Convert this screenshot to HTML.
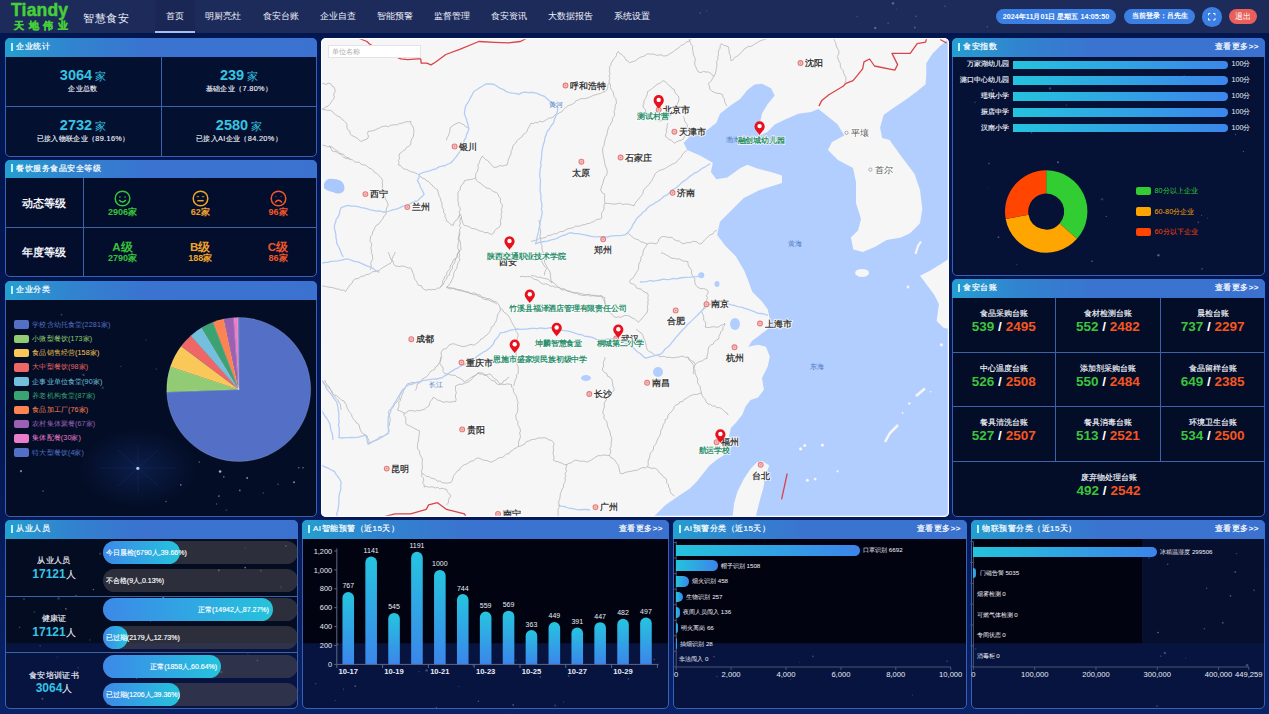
<!DOCTYPE html>
<html><head><meta charset="utf-8">
<style>
*{margin:0;padding:0;box-sizing:border-box}
html,body{width:1269px;height:714px;overflow:hidden}
body{position:relative;background:linear-gradient(180deg,#02164f 0%,#041752 60%,#0a2266 100%);font-family:"Liberation Sans",sans-serif;color:#fff}
.a{position:absolute}
#hdr{left:0;top:0;width:1269px;height:33px;background:#1d2b5b}
.pn{position:absolute;border:1px solid #3a60b4;border-radius:5px;background:#020a2b}
.tt{position:absolute;left:-1px;right:-1px;top:-1px;height:18.5px;border-radius:5px 5px 0 0;
 background:linear-gradient(90deg,#259ed0 0%,#3183cf 22%,#3a74d0 45%,#3b72cf 100%);-webkit-text-stroke:0.2px #fff;font-size:8px;letter-spacing:0.5px;line-height:18.5px;padding-left:11px;color:#fff;white-space:nowrap}
.tt:before{content:"";position:absolute;left:6px;top:4.5px;width:2px;height:8px;background:#b8f4ff}
.tt .more{position:absolute;right:6px;top:0}
#nav span{position:absolute;top:10.5px;width:60px;text-align:center;font-size:8.6px;color:#f0f3fb;white-space:nowrap}
.st{text-align:center;white-space:nowrap;line-height:15px}
.st b{font-size:14.5px;color:#36c4e2;font-weight:bold}
.st i{font-style:normal;font-size:10.5px;color:#36c4e2;margin-left:3px}
.st p{font-size:7.3px;letter-spacing:0.35px;line-height:9px;color:#f0f2fa;-webkit-text-stroke:0.12px #f0f2fa;margin-top:-0.5px}
.lv{text-align:center;font-size:11px;font-weight:bold;color:#f2f2f8;line-height:14px;white-space:nowrap}
.cnt{width:60px;text-align:center;font-size:9px;font-weight:bold;line-height:10px;white-space:nowrap}
.cnt i{font-style:normal;font-weight:bold;font-size:9px}
.lg{width:60px;text-align:center;font-size:11.5px;font-weight:bold;line-height:13px;white-space:nowrap}
.lgt{font-size:7.2px;line-height:10px;white-space:nowrap;letter-spacing:0.1px}
.ppl{text-align:center;white-space:nowrap}
.ppl p{font-size:8px;letter-spacing:0.3px;line-height:11px;color:#eef0f8;-webkit-text-stroke:0.15px #eef0f8}
.ppl .n{font-size:12px;line-height:11px;margin-top:2.8px}
.ppl b{color:#36c4e2}
.ppl i{font-style:normal;font-size:9.5px;color:#fff}
.trk{height:23px;border-radius:11.5px;background:rgba(78,74,82,0.55)}
.fil{position:relative;height:23px;border-radius:11.5px;background:linear-gradient(90deg,#3c89e8,#25c3dc);text-align:right;padding-right:4px;white-space:nowrap}
.fil span{position:absolute;font-size:7px;line-height:23px;color:#fff;left:2.5px;-webkit-text-stroke:0.15px #fff}
svg text{font-family:"Liberation Sans",sans-serif;fill:#fff}
.vl{font-size:7px;text-anchor:middle;fill:#e8ecf4}
.yl{font-size:7.4px;text-anchor:end;fill:#e8ecf4}
.xl{font-size:7.6px;text-anchor:middle;font-weight:bold;fill:#e8ecf4}
.ct{font-size:9px;font-weight:bold;fill:#3d3d3d;paint-order:stroke;stroke:#fff;stroke-width:1.6px;stroke-linejoin:round}
.sl{font-size:7.4px;fill:#4a78c4;text-anchor:middle}
.mk{font-size:8px;letter-spacing:-0.2px;font-weight:bold;fill:#2d8f6c;text-anchor:middle;paint-order:stroke;stroke:#fff;stroke-width:1.4px;stroke-linejoin:round}
.sbl{font-size:7.3px;line-height:10px;color:#f0f2f8;-webkit-text-stroke:0.15px #f0f2f8;text-align:right;white-space:nowrap}
.sbar{height:8.3px;border-radius:0 4.2px 4.2px 0;background:linear-gradient(90deg,#24c3de,#3b86ea)}
.sbv{font-size:7.2px;line-height:10px;color:#f0f0f6;white-space:nowrap}
.tz{text-align:center;white-space:nowrap}
.tz p{font-size:8.3px;line-height:11px;color:#f4f6fc;-webkit-text-stroke:0.15px #f4f6fc}
.tz b{display:block;font-size:13.5px;line-height:15px;color:#fff}
.tz em{font-style:normal;color:#3dc43d}
.tz u{text-decoration:none;color:#f5561f}
.hb{height:10.7px;border-radius:0 5.35px 5.35px 0;background:linear-gradient(90deg,#24c4dc,#3c84ea)}
.hbl{font-size:6.2px;line-height:10px;color:#f2f2f6;white-space:nowrap}
.xa{font-size:7.6px;text-anchor:middle;fill:#e8ecf4}
.c{text-align:center;white-space:nowrap}
</style></head>
<body>
<div id="hdr" class="a">
 <div class="a" style="left:11px;top:-0.5px;font-size:17.5px;font-weight:bold;color:#45cf38;letter-spacing:0.2px;-webkit-text-stroke:0.5px #45cf38">Tiandy</div>
 <div class="a" style="left:14px;top:20px;font-size:9.8px;color:#45cf38;letter-spacing:4.7px;font-weight:bold;-webkit-text-stroke:0.4px #45cf38">天地伟业</div>
 <div class="a" style="left:83px;top:10.5px;font-size:11px;color:#eef0fa;letter-spacing:0.6px">智慧食安</div>
 <div class="a" style="left:155px;top:0;width:40px;height:33px;background:#1a2754"></div>
 <div class="a" style="left:155px;top:31px;width:40px;height:2px;background:#a9bdf0"></div>
 <div id="nav"><span style="left:144.7px">首页</span><span style="left:193.2px">明厨亮灶</span><span style="left:250.8px">食安台账</span><span style="left:307.9px">企业自查</span><span style="left:364.6px">智能预警</span><span style="left:421.8px">监督管理</span><span style="left:479.3px">食安资讯</span><span style="left:540.5px">大数据报告</span><span style="left:601.7px">系统设置</span></div>
 <div class="a pill" style="left:996px;top:9px;width:120px;height:15px;background:#3b7fe3;border-radius:8px;font-size:7.2px;font-weight:bold;line-height:15px;text-align:center">2024年11月01日 星期五 14:05:50</div>
 <div class="a pill" style="left:1124px;top:9px;width:71px;height:15px;background:#3b7fe3;border-radius:8px;font-size:7.1px;font-weight:bold;line-height:15px;text-align:center">当前登录：吕先生</div>
 <div class="a" style="left:1202px;top:7px;width:19.5px;height:19.5px;background:#3b7fe3;border-radius:50%">
  <svg class="a" style="left:6px;top:6px" width="7.5" height="7.5" viewBox="0 0 7.5 7.5" fill="none" stroke="#fff" stroke-width="1"><path d="M0.5 2.3V0.5H2.3M5.2 0.5H7V2.3M7 5.2V7H5.2M2.3 7H0.5V5.2"/></svg>
 </div>
 <div class="a" style="left:1228.5px;top:9px;width:28.5px;height:15px;background:#e9605a;border-radius:8px;font-size:7.9px;line-height:15px;text-align:center">退出</div>
</div>

<!-- left col -->
<div class="pn" style="left:5px;top:38px;width:312px;height:119px;background:#04102f"><div class="tt">企业统计</div></div>
<div class="pn" style="left:5px;top:159.5px;width:312px;height:117.5px;background:#030e2c"><div class="tt">餐饮服务食品安全等级</div></div>
<div class="pn" style="left:5px;top:281px;width:312px;height:236px;background:#030d25"><div class="tt">企业分类</div></div>


<!-- map -->

<!-- MAP -->
<svg class="a" style="left:0;top:0" width="1269" height="714"><defs><clipPath id="mc"><rect x="321" y="38" width="628" height="479" rx="5"/></clipPath></defs><g clip-path="url(#mc)"><rect x="321" y="38" width="628" height="479" fill="#f6f6f6"/><polygon points="754.6,84.6 747.4,90.0 740.1,99.1 729.2,106.4 720.0,113.7 716.4,122.8 707.3,130.1 690.9,135.5 683.6,142.8 687.3,150.1 700.0,155.6 712.8,162.8 710.9,171.9 716.4,179.2 727.3,177.4 740.1,168.3 747.4,164.7 756.5,168.3 771.0,172.0 782.0,175.6 782.0,182.9 771.0,186.5 759.8,190.0 743.8,197.9 733.2,208.5 719.9,221.8 717.2,235.1 725.2,245.8 735.9,256.4 743.8,269.7 748.0,280.0 752.2,291.8 762.0,301.6 767.8,309.4 769.8,319.2 767.8,329.0 760.0,334.9 752.2,340.8 748.2,346.7 758.0,344.7 765.9,346.7 769.8,356.5 767.8,366.3 762.0,378.0 763.9,389.8 758.0,397.6 750.5,400.0 745.6,406.6 742.3,414.8 735.7,423.0 730.8,427.9 729.2,436.1 727.5,445.9 725.9,454.1 717.7,459.0 709.5,465.6 703.0,473.8 696.4,482.0 689.8,488.5 680.0,495.1 665.5,504.9 656.5,513.9 652.0,518.0 950.0,518.0 950.0,38.0 947.0,38.0 946.6,40.8 939.6,46.4 932.6,53.4 926.3,63.2 926.3,73.0 925.6,84.2 917.2,91.2 906.0,99.6 893.4,108.0 883.6,115.0 880.1,127.6 882.2,138.0 889.6,140.0 901.0,156.0 914.6,174.0 920.0,190.0 922.3,209.0 920.0,223.3 910.4,232.9 900.9,237.6 886.6,240.0 874.7,247.1 862.8,251.9 853.3,249.5 850.9,237.6 858.0,230.5 861.0,219.0 856.0,203.0 856.0,182.0 853.0,168.0 838.0,160.0 828.0,150.0 832.0,142.0 844.3,135.5 837.5,124.2 826.0,115.0 818.4,109.1 811.1,111.9 798.3,113.7 785.6,119.2 774.7,124.6 767.4,131.9 760.1,135.5 756.5,131.9 760.1,122.8 761.9,113.7 767.4,104.6 774.7,95.5 771.0,88.2 761.9,83.7" fill="#b2cefe"/><polygon points="762.0,460.7 769.3,465.6 765.2,475.4 763.6,486.9 760.3,498.4 757.0,511.5 755.4,518.0 732.5,518.0 734.1,503.3 737.4,491.8 743.9,478.7 750.5,468.9 757.0,462.3" fill="#f6f6f6"/><polygon points="950.0,258.0 941.4,263.8 929.5,271.0 920.0,275.7 924.0,281.0 927.1,285.2 934.2,294.8 939.0,304.3 936.6,321.0 943.8,328.1 950.0,329.0" fill="#f6f6f6"/><ellipse cx="862.1" cy="272.9" rx="7" ry="4" fill="#f6f6f6"/><path d="M915.5 254L918 246L921 241.5" stroke="#f6f6f6" stroke-width="2.2" fill="none"/><path d="M885 442L890 433L898 425" stroke="#f6f6f6" stroke-width="2.5" fill="none"/><path d="M916 396L925 388.5" stroke="#f6f6f6" stroke-width="2.5" fill="none"/><circle cx="800.6" cy="448.9" r="1.6" fill="#f6f6f6"/><circle cx="804.7" cy="445.5" r="1.6" fill="#f6f6f6"/><circle cx="822.4" cy="445.1" r="1.6" fill="#f6f6f6"/><circle cx="807.4" cy="480.3" r="1.5" fill="#f6f6f6"/><circle cx="815.2" cy="479.1" r="1.3" fill="#f6f6f6"/><circle cx="837.6" cy="471.3" r="1.1" fill="#f6f6f6"/><circle cx="909.3" cy="403.5" r="1.2" fill="#f6f6f6"/><circle cx="902.6" cy="413" r="0.9" fill="#f6f6f6"/><circle cx="930.6" cy="391.7" r="0.8" fill="#f6f6f6"/><circle cx="941.4" cy="344.8" r="1.6" fill="#f6f6f6"/><circle cx="908" cy="287" r="1.4" fill="#f6f6f6"/><path d="M324 184Q326 178 333 179Q340 179 343 183Q346 188 343 192Q338 195 333 192Q327 191 324 188Z" fill="#aac8fc"/><ellipse cx="658" cy="372" rx="5" ry="5" fill="#b2cefe"/><ellipse cx="586" cy="378" rx="5" ry="3" fill="#b2cefe"/><ellipse cx="735" cy="324" rx="5" ry="6" fill="#b2cefe"/><ellipse cx="701.3" cy="275.2" rx="3" ry="3" fill="#b2cefe"/><ellipse cx="717" cy="284.1" rx="2.5" ry="3" fill="#b2cefe"/><ellipse cx="681" cy="320" rx="3" ry="2" fill="#b2cefe"/><polyline points="324.8,380.0 325.4,382.2 326.6,384.0 328.2,385.7 329.5,387.5 330.3,389.6 331.5,391.4 332.5,393.4 334.2,395.0 336.5,395.7 338.3,397.2 340.1,398.6 341.7,400.3 344.0,401.0 345.2,403.3 346.6,405.5 347.1,408.1 348.5,410.4 349.8,412.6 351.5,414.3 352.0,416.8 353.3,418.8 354.9,420.5 356.1,422.5 358.3,423.9 359.4,426.0 360.0,429.0 361.3,431.8 362.8,433.6 364.9,434.6 367.0,435.7 367.7,438.2 369.0,440.6 369.0,443.3 370.9,442.1 372.9,441.2 375.1,440.4 377.1,439.4 378.6,437.6 381.0,436.6 383.6,436.2 385.7,434.3 388.2,433.7 389.0,431.6 388.8,429.3 388.2,427.0 389.6,425.0 389.4,422.8 390.3,420.6 390.1,418.4 389.4,415.4 388.2,412.6 389.2,410.2 391.4,408.8 393.5,407.2 394.3,404.7 396.0,402.8 397.8,401.1 399.3,398.9 399.2,396.1 400.8,393.9 401.6,391.5 402.7,389.3 405.1,388.1 406.3,386.0 407.4,383.8 409.6,383.4 411.8,382.5 414.1,382.6 416.3,382.5 418.7,382.9 420.8,381.9" fill="none" stroke="#b0b0b0" stroke-width="0.75" stroke-linejoin="round"/><polyline points="458.9,232.6 459.8,234.9 458.9,237.5 459.4,239.9 460.5,242.2 460.4,244.6 460.8,247.0 461.0,249.4 459.4,251.4 457.8,253.3 457.3,256.1 456.0,258.2 453.6,259.6 452.6,262.0 451.6,264.1 450.1,266.0 450.2,268.7 448.5,270.4 447.0,272.3 446.7,274.8 444.6,276.4 444.2,278.8 442.6,280.6 442.8,283.2 441.7,285.3 440.0,287.0" fill="none" stroke="#b0b0b0" stroke-width="0.75" stroke-linejoin="round"/><polyline points="446.3,287.2 448.5,288.4 450.9,288.9 453.5,288.1 455.9,288.7 458.0,290.3 460.4,290.7 462.8,291.1 465.2,291.4 467.4,291.9 469.3,293.1 471.4,293.9 473.6,294.6 475.9,294.7 477.8,295.9 480.0,296.6 481.9,297.8 483.8,299.0 486.0,299.7 488.3,299.8 490.4,300.9 492.5,301.8 494.8,302.6 496.7,304.0" fill="none" stroke="#b0b0b0" stroke-width="0.75" stroke-linejoin="round"/><polyline points="519.8,276.7 522.4,276.3 525.0,276.8 527.7,276.5 530.3,276.7 532.3,278.1 534.4,279.4 537.0,279.9 539.1,281.1 540.8,283.0 543.1,284.1 545.7,283.8 548.1,284.4 550.2,286.2 552.8,286.0 555.1,287.1 557.6,287.2 559.7,287.9 561.7,288.8 564.1,288.8 566.0,290.2 568.0,291.3 570.2,291.4 572.2,292.5 574.4,293.1 576.8,292.8 578.6,294.6 580.7,295.0 582.9,295.6 585.3,295.3 587.6,294.8 590.0,296.2 592.3,295.6 594.7,296.0 597.1,296.2 599.4,295.9 601.8,295.6 602.2,298.0 604.0,299.7 604.5,302.1 606.0,304.0 606.3,306.4 608.0,308.2" fill="none" stroke="#b0b0b0" stroke-width="0.75" stroke-linejoin="round"/><polyline points="538.7,220.0 539.4,222.3 539.9,224.7 539.7,227.1 540.3,229.4 540.7,231.7 540.4,234.2 539.9,236.6 540.8,238.9 540.6,241.3 540.9,243.7 542.1,245.9 541.8,248.4 542.5,250.7 543.0,253.0 543.4,255.4 543.0,257.8 544.4,259.7 544.5,262.3 545.6,264.3 546.7,266.4 547.7,268.5 549.2,270.4 550.2,272.8 550.6,275.4 550.7,278.0 551.1,280.6 552.0,283.0" fill="none" stroke="#b0b0b0" stroke-width="0.75" stroke-linejoin="round"/><polyline points="688.5,38.0 689.4,40.2 690.3,42.4 691.3,44.6 692.8,46.5 692.4,49.1 693.1,51.5 693.2,54.0 694.2,56.4 695.3,58.8 695.0,61.4 694.5,64.0 695.6,66.4 696.8,69.3 698.4,72.0 700.9,72.6 703.4,71.4 705.9,72.0 708.4,72.0 710.5,73.1 712.1,74.9 714.0,76.3 712.5,78.0 711.8,80.3 710.2,81.9 708.4,83.4 709.4,86.2 709.8,89.1 711.8,91.1 714.3,92.3 716.9,93.3 719.9,93.5 722.6,94.7 722.8,97.0 724.5,98.8 724.5,101.1 725.4,103.2 726.8,106.0" fill="none" stroke="#b0b0b0" stroke-width="0.75" stroke-linejoin="round"/><polyline points="714.0,76.3 715.2,74.0 715.9,71.5 716.2,68.9 716.9,66.4 716.8,64.0 716.6,61.6 717.9,59.3 717.8,56.9 718.5,54.6 718.3,52.2 718.8,50.0 720.1,48.1 720.1,45.7 721.1,43.7 723.3,45.1 725.7,45.9 728.2,46.5 728.8,48.8 729.1,51.2 729.4,53.7 730.6,55.9 730.5,58.4 731.1,60.7 733.3,59.7 734.6,57.5 736.7,56.4 738.8,55.0 740.5,53.1 742.4,51.5 743.8,49.3 746.0,47.9 748.1,46.5 750.9,46.4 753.1,45.3 755.2,43.7 757.6,42.5 759.9,41.0 762.4,40.0 765.1,39.4 768.0,38.0" fill="none" stroke="#b0b0b0" stroke-width="0.75" stroke-linejoin="round"/><polyline points="833.2,38.0 834.4,40.3 835.6,42.5 836.0,45.1 837.2,48.1 838.9,50.8 838.8,53.8 837.4,56.4 838.1,58.9 839.1,61.3 840.3,63.7 840.3,66.4 841.3,68.5 843.1,70.3 843.5,72.7 844.5,74.9 845.9,77.6 846.0,80.6 844.5,83.4" fill="none" stroke="#b0b0b0" stroke-width="0.75" stroke-linejoin="round"/><polyline points="321.0,83.8 323.4,83.4 325.9,84.5 328.4,83.2 330.8,83.8 331.9,85.9 334.1,87.1 335.0,89.4 335.1,91.9 333.5,94.2 334.4,96.8 333.6,99.2 332.0,100.8 330.9,102.7 329.5,104.5 328.0,106.2 325.7,107.1 323.5,108.5 321.0,109.0" fill="none" stroke="#b0b0b0" stroke-width="0.75" stroke-linejoin="round"/><polyline points="329.4,145.4 330.9,148.2 332.2,151.0 334.4,151.5 336.6,151.9 338.3,153.7 340.6,153.8 343.1,154.1 344.8,155.9 346.6,157.5 349.0,158.0 350.4,160.0" fill="none" stroke="#b0b0b0" stroke-width="0.75" stroke-linejoin="round"/><polyline points="321.0,109.0 323.2,109.6 325.5,109.8 327.7,110.4 330.1,110.3 332.2,111.2 333.8,113.2 335.7,114.8 337.8,116.2 340.3,117.2 341.8,119.2 343.9,120.6 345.7,122.4 347.0,124.5 346.8,127.1 347.6,129.4 349.9,131.1 350.1,133.6 351.6,135.4 353.7,136.4 355.8,137.4 357.8,138.6 359.3,140.4 361.3,141.5 363.5,140.3 366.0,139.5 368.1,138.1 368.4,135.9 367.5,133.6 368.1,131.4 370.5,131.1 372.8,130.8 375.0,130.1 377.1,128.9 379.3,128.0 381.4,126.8 383.6,126.3 385.9,126.0 388.4,126.8 390.4,125.3 392.7,125.0 395.0,124.7 397.4,124.8 399.4,123.4 401.7,123.3 403.9,122.7 406.0,121.6 408.4,121.9 410.6,121.3 410.9,124.0 412.8,126.2 413.6,128.7 414.0,131.4 413.6,133.7 413.6,136.0 412.3,138.1 411.2,140.2 410.9,142.5 410.6,144.8 408.7,146.3 406.5,147.4 405.4,149.7 403.1,150.7 401.4,152.5 399.4,153.8 399.0,156.0 399.6,158.3 398.3,160.5 399.2,162.8 398.3,165.0 400.6,165.6 402.2,167.7 404.1,169.0 406.6,169.4 408.6,170.5 410.6,171.7 413.0,172.1 415.2,172.9 417.4,174.0" fill="none" stroke="#b0b0b0" stroke-width="0.75" stroke-linejoin="round"/><polyline points="321.0,144.8 323.3,145.2 325.5,145.8 327.6,146.8 330.0,146.6 332.2,147.1 334.1,148.7 336.0,150.4 338.3,151.5 339.9,153.5 341.7,155.3 343.5,157.1 345.7,158.3 348.1,158.4 350.3,159.5 352.6,159.9 354.5,161.7 356.8,162.3 359.3,162.1 361.1,164.2 363.3,165.0 365.8,165.0 367.4,166.7 369.2,168.1 371.4,169.0 373.3,170.4 374.5,172.5 376.7,173.4 378.3,175.0 380.0,176.6 381.5,178.4 382.6,180.5 382.2,182.9 382.6,185.1 382.3,187.5 383.1,189.6 383.2,191.9 383.8,194.1 384.7,196.3 385.3,198.7 386.5,200.8 387.7,202.9 388.2,205.3 386.9,207.4 386.3,209.6 386.0,211.9 386.0,214.3 384.1,216.0 383.0,218.3 381.5,220.3 379.9,222.2 378.5,224.3 376.1,225.5 374.8,227.7 374.0,230.0 372.5,232.0 372.3,234.5 370.5,236.5 370.3,239.0 370.0,241.3 371.6,243.4 371.6,245.7 370.7,248.0 371.7,250.2 371.2,252.5 372.4,254.6 372.5,256.9 372.8,259.2 371.5,261.2 370.8,263.4 371.2,265.7 371.1,267.9 370.0,270.0" fill="none" stroke="#b0b0b0" stroke-width="0.75" stroke-linejoin="round"/><polyline points="417.4,174.0 419.2,175.3 420.8,176.9 422.6,178.2 424.9,178.9 426.3,180.7 428.7,181.6 430.2,183.5 432.1,184.9 433.5,187.0 435.4,188.4 437.5,189.6 438.0,191.9 438.7,194.1 439.2,196.4 440.6,198.4 440.8,200.8 441.9,202.9 442.0,205.3 442.0,207.7 444.0,209.6 443.4,212.2 445.2,214.1 444.9,216.6 446.1,218.7 446.5,221.0 448.8,222.4 450.7,224.5 453.2,225.5 453.9,222.9 455.3,220.7 457.8,219.1 458.7,216.5 460.0,214.3 459.1,212.1 460.3,209.7 459.9,207.5 458.4,205.4 458.6,203.1 457.9,200.9 457.9,198.6 458.1,196.3 457.7,194.1 458.3,191.6 460.2,189.8 460.4,187.1 461.7,184.9 463.7,183.2 464.4,180.7 466.6,180.1 468.9,179.7 471.2,179.5 473.4,178.8 475.6,178.4 475.8,176.1 475.6,173.8 477.1,171.8 477.9,169.6 478.3,167.4 477.9,165.0 479.3,162.9 479.9,160.4 481.1,158.2 482.4,156.0 483.8,157.8 485.4,159.4 487.6,160.4 489.1,162.1 490.6,163.8 492.0,165.6 493.6,167.2 495.9,167.3 498.1,166.5 500.2,165.4 502.6,166.2 504.7,165.3 507.0,165.0 507.8,162.8 508.1,160.4 509.1,158.2 509.8,156.0 511.1,153.9 510.9,151.3 512.3,149.3 512.5,146.9 513.7,144.8 515.6,143.3 516.6,140.9 518.5,139.5 520.3,137.9 522.3,136.6 523.3,134.2 525.5,133.0 527.2,131.4 527.7,129.2 528.8,127.2 530.0,125.2 531.0,123.2 533.4,123.5 535.5,122.4 537.8,122.8 539.8,121.1 542.3,122.0 544.4,120.9 546.6,119.6 548.7,118.2 551.3,117.9 553.7,117.0 555.3,114.6 557.9,114.2 559.5,112.6 561.7,111.9 563.1,110.0 564.8,108.5 566.4,106.9 568.2,105.6 570.5,105.0 572.7,104.1 574.5,102.8 575.8,100.8 578.0,100.2 580.1,98.8 582.5,98.6 584.9,98.7 587.2,98.1 589.3,97.2 591.5,96.3 593.6,95.1 596.0,94.8 598.2,94.0 600.6,93.5 602.6,92.2 605.0,91.8 606.7,89.9 607.8,87.6 607.8,84.8 609.4,82.8 609.1,80.6 610.0,78.3 609.0,76.1 610.1,73.8 609.4,71.6 609.7,69.3 609.4,67.1 610.8,65.3 611.3,62.9 612.5,61.0 613.6,59.1 615.3,57.4 616.4,55.5 616.8,53.1 618.4,51.4 619.6,53.4 621.7,54.5 623.5,56.0 624.9,57.8 625.9,60.0 627.9,61.2 629.6,62.7 631.7,61.9 633.9,61.3 635.9,60.4 637.7,59.1 639.5,57.6 641.6,56.8 643.8,56.3 645.7,55.1 647.5,53.7 649.7,54.1 652.0,54.0 654.3,54.3 656.5,55.2 658.7,55.2 661.1,54.6 663.2,56.0 665.5,55.9 667.8,55.2 669.7,53.8 671.8,52.7 673.8,51.5 675.5,49.7 677.7,48.8 679.3,47.0 681.1,45.4 683.4,44.7 685.1,43.2 686.8,41.8 689.2,41.2 690.8,39.6 692.4,38.0" fill="none" stroke="#b0b0b0" stroke-width="0.75" stroke-linejoin="round"/><polyline points="446.5,140.3 446.9,137.9 448.3,135.9 449.0,133.7 450.0,131.5 449.8,129.0 451.0,126.9 453.1,125.4 455.2,124.1 457.6,123.1 460.0,122.4 461.6,124.0 463.9,124.6 465.3,126.5 467.4,127.4 468.9,129.1" fill="none" stroke="#b0b0b0" stroke-width="0.75" stroke-linejoin="round"/><polyline points="460.0,214.3 461.5,216.3 461.5,218.9 462.4,221.1 462.9,223.5 464.4,225.5 466.8,225.9 469.0,226.6 471.0,228.1 473.3,228.7 475.7,229.0 477.9,230.0 480.0,231.0 482.4,231.3 484.5,232.7 487.0,232.4 489.2,233.3 491.3,234.5 493.6,233.2 494.7,230.7 496.4,228.8 498.8,227.6 500.3,225.5 500.8,223.3 500.2,221.0 501.1,218.8 501.5,216.6 501.0,214.2 502.0,212.1 501.4,209.7 502.0,207.5 502.5,205.3 501.0,203.3 500.3,201.0 500.5,198.3 498.8,196.4 498.0,194.1 496.4,192.3 494.1,192.0 492.2,190.6 490.5,189.1 488.4,188.3 486.0,188.0 484.4,186.2 482.4,185.2 480.9,183.3 478.6,182.2 476.8,180.6 475.6,178.4" fill="none" stroke="#b0b0b0" stroke-width="0.75" stroke-linejoin="round"/><polyline points="460.0,214.3 459.3,216.5 460.8,218.8 459.6,221.0 460.5,223.2 459.2,225.5 460.8,227.7 459.4,230.0 460.0,232.2 459.3,234.4 458.7,236.6 458.1,238.8 458.9,241.3 458.3,243.5 457.7,245.7 457.8,248.1 458.8,250.4 459.2,252.8 459.7,255.2 459.1,257.7 460.0,260.0 458.3,262.3 457.3,264.8 457.0,267.7 455.5,270.0 454.0,272.2 453.7,274.8 453.2,277.4 452.0,279.6 451.0,282.0 449.6,283.8 448.5,285.8 446.5,287.0 448.7,287.6 451.0,287.7 453.2,288.5 455.3,289.6 457.7,289.6 460.0,289.7 462.2,290.3 464.3,291.5 466.5,292.3 468.9,292.2 471.0,293.6 473.6,292.8 475.8,293.6 477.9,294.8 480.3,295.1 482.1,297.1 484.5,297.6 486.7,298.5 489.2,298.7 491.3,299.8 493.3,301.2 495.8,301.5 497.8,303.4 499.3,305.7 500.3,308.3 500.2,310.8 498.8,312.8 497.5,314.8 497.2,317.2 496.7,319.5 495.8,321.7 494.5,323.6 493.7,325.8 491.3,327.1 490.9,329.5 489.7,331.6 488.3,333.4 486.8,335.2 484.6,336.3 483.2,338.4 480.8,339.1 479.5,341.3 477.5,342.7 475.6,344.1 473.5,345.2 471.0,344.4 468.8,345.0 466.6,346.0 464.4,346.4 462.1,346.6 459.9,345.6 457.7,345.4 455.6,344.3 453.3,343.8 451.0,344.1 449.0,345.2 447.6,347.1 446.0,348.8 443.4,349.0 442.0,350.9 440.9,353.0 441.7,355.5 440.7,357.6 440.3,359.9 439.8,362.1 440.0,364.6 442.3,366.3 443.2,368.6 442.9,371.3 444.3,373.3 446.5,373.8 448.8,374.1 450.9,375.1 453.2,375.2 455.5,375.5 457.1,377.1 459.3,377.9 461.2,379.0 463.1,380.2 464.4,382.2 466.2,380.7 468.4,379.9 470.1,378.2 472.0,376.9 474.1,376.0 476.2,374.8 477.9,373.3 480.1,374.0 482.4,374.1 484.5,375.4 486.8,375.5 488.4,377.4 490.1,379.0 492.0,380.5 494.8,380.9 496.0,383.2 498.0,384.5 500.2,384.3 502.5,384.3 504.8,384.5 507.0,383.9 509.2,384.1 511.5,384.5 511.6,387.0 513.4,388.9 513.4,391.4 514.6,393.6 516.0,395.6 516.8,397.8 517.2,400.2 518.2,402.4 517.5,404.9 517.7,407.5 517.8,410.1 517.3,412.5 515.8,414.9 516.0,417.5 516.4,419.9 518.1,421.8 517.7,424.4 518.9,426.5 520.0,428.7 520.5,431.0 519.5,433.1 520.4,435.5 520.2,437.8 519.4,440.0 518.5,442.1 518.5,444.4 518.2,446.6 516.3,447.9 514.0,448.6 512.6,450.6 510.3,451.4 509.1,453.7 506.5,453.9 504.8,455.6 502.8,457.2 500.2,457.6 497.8,458.5 495.7,459.8 493.5,461.1 491.3,462.3 489.1,461.5 487.0,460.5 484.5,460.3 482.2,459.8 480.2,458.5 477.9,457.9 475.6,459.0 473.7,460.7 471.1,461.2 468.9,462.4 466.9,464.0 464.4,464.6 462.4,466.1 460.5,467.8 459.2,470.1 456.9,471.3 455.5,473.5 453.7,475.4 453.0,477.9 452.3,480.3 451.0,482.5 448.8,482.9 446.5,483.1 444.2,482.9 442.0,482.5 440.1,480.9 437.3,481.4 435.5,479.2 433.2,478.6 430.8,478.0 428.8,476.5 426.1,476.3 424.2,474.4 421.9,473.5 421.4,471.3 422.2,469.0 422.4,466.8 422.3,464.6 422.0,462.4 422.5,460.1 421.9,457.9 420.6,455.8 419.6,453.6 419.7,450.9 417.6,449.1 417.4,446.6 417.6,444.4 417.9,442.1 418.9,440.0 418.5,437.7 419.1,435.5 419.3,433.2 419.6,431.0 417.4,429.9 415.1,428.8 412.9,427.6 410.7,426.3 408.4,425.4 406.2,424.2 405.6,422.0 405.9,419.6 405.6,417.3 404.0,415.3 403.9,413.0 406.4,412.9 408.1,410.8 410.6,410.8 412.9,410.5 415.1,411.4 417.4,410.3 419.6,410.8 422.0,409.9 424.5,409.3 426.4,407.6 428.6,406.3 429.7,404.0 430.2,401.5 431.9,399.5 433.1,397.3 435.4,398.4 437.3,400.0 439.9,400.5 442.0,401.8 444.2,402.3 446.5,401.6 448.8,402.0 451.0,402.2 453.2,401.3 455.5,401.8 456.2,399.6 455.4,397.3 455.5,395.1 456.3,392.8 455.6,390.6 455.5,388.3 455.5,386.1 457.6,384.9 459.8,384.2 462.3,384.3 464.4,383.2 466.7,382.7 468.9,381.7 470.9,380.1 472.7,378.3 474.1,376.1 476.5,374.9 477.9,372.7 480.1,373.0 482.5,372.9 484.5,374.4 486.7,374.8 489.2,373.9 491.3,374.9 492.7,377.1 494.7,378.7 497.0,380.0 498.4,382.2 500.3,383.9 502.5,383.1 503.6,380.8 505.9,380.1 507.3,378.2 509.3,377.2" fill="none" stroke="#b0b0b0" stroke-width="0.75" stroke-linejoin="round"/><polyline points="321.0,285.9 323.3,286.0 325.5,286.6 327.7,286.9 329.9,287.3 332.2,287.6 334.4,288.1 336.6,289.0 339.0,289.1 341.1,290.3 343.7,290.1 345.7,291.5 346.9,289.2 348.5,287.2 349.7,285.0 351.9,283.5 352.9,281.0 354.6,279.1 357.0,278.7 359.3,278.0 361.2,276.1 363.8,276.2 365.8,274.7 368.2,274.4 370.4,273.5 372.3,271.7 374.8,271.6 377.1,271.1 379.3,270.2 381.4,268.6 383.6,267.1 385.9,265.9 388.1,264.4 390.5,263.4 391.8,261.3 392.1,258.8 393.1,256.6 394.3,254.5 395.0,252.2" fill="none" stroke="#b0b0b0" stroke-width="0.75" stroke-linejoin="round"/><polyline points="388.2,252.2 389.3,254.5 390.0,256.9 390.9,259.3 393.0,261.0 393.5,263.6 395.0,265.7 397.2,266.3 399.4,266.6 401.8,266.0 404.0,266.2 406.2,267.1 408.3,268.0 410.6,267.9 411.9,270.0 412.5,272.4 413.8,274.5 414.0,277.1 414.8,279.4 416.6,281.3 417.4,283.6 418.7,285.6 421.4,285.7 422.4,288.0 424.2,289.4 426.3,290.3 428.5,289.4 430.9,289.9 433.1,289.3 435.4,289.6 437.5,288.0 439.8,288.1 441.2,286.3 443.0,284.9 444.0,282.8 444.9,280.7 446.5,279.1 447.0,276.6 449.4,275.0 449.8,272.4 451.0,270.2 452.6,268.3 452.3,265.5 454.2,263.7 455.1,261.4 455.5,259.0 457.2,257.1 457.1,254.2 458.7,252.2 460.0,250.0" fill="none" stroke="#b0b0b0" stroke-width="0.75" stroke-linejoin="round"/><polyline points="500.3,308.3 502.5,309.7 503.7,312.0 505.9,313.5 507.8,315.1 509.3,317.2 510.3,319.2 511.3,321.2 512.3,323.2 513.3,325.2 514.6,327.0 515.6,329.0 515.9,331.3 517.5,333.1 518.2,335.2 517.6,337.4 517.2,339.6 516.8,341.8 516.4,344.1 517.2,346.4 517.0,348.7 515.9,350.8 516.0,353.1 516.2,355.4 517.0,357.5 516.5,359.8 516.5,362.1 516.8,364.4 518.1,366.5 518.2,368.7 518.2,371.0 518.3,373.4 516.2,375.1 516.7,377.6 515.3,379.5 514.9,381.8 514.2,383.9 513.7,386.1" fill="none" stroke="#b0b0b0" stroke-width="0.75" stroke-linejoin="round"/><polyline points="406.2,386.1 404.8,388.4 403.5,390.7 402.8,393.3 401.7,395.7 400.9,398.1 400.4,400.5 398.7,402.6 399.0,405.3 398.5,407.8 397.2,410.0 399.6,410.7 401.8,411.7 403.9,413.0" fill="none" stroke="#b0b0b0" stroke-width="0.75" stroke-linejoin="round"/><polyline points="415.1,390.6 416.5,388.6 416.9,386.2 417.4,383.9 419.4,382.7 421.2,381.4 422.2,379.1 424.2,378.1 426.2,376.9 427.8,375.4 429.2,373.5 430.4,371.6 432.4,370.4 434.7,369.6 435.4,367.0 437.5,366.0 438.4,363.6 440.4,361.8 440.8,359.2 442.0,357.0" fill="none" stroke="#b0b0b0" stroke-width="0.75" stroke-linejoin="round"/><polyline points="321.0,380.0 323.2,381.4 324.4,383.8 326.2,385.6 328.2,387.2 330.0,389.0 331.7,390.7 332.2,393.1 333.4,395.0 335.1,396.7 336.4,398.6 338.1,400.3 339.0,402.4 340.5,404.7 340.7,407.4 341.2,410.0" fill="none" stroke="#b0b0b0" stroke-width="0.75" stroke-linejoin="round"/><polyline points="421.9,473.5 421.5,475.9 423.2,477.9 423.8,480.1 422.6,482.6 424.2,484.7 424.1,487.0 426.4,486.4 428.6,487.2 430.9,486.8 433.1,487.0 435.2,488.0 437.6,487.3 439.7,488.8 442.1,488.2 444.2,489.0 446.5,489.2 447.4,491.8 449.3,493.9 451.0,496.0 449.3,497.9 448.5,500.3 448.3,503.0 446.5,504.9" fill="none" stroke="#b0b0b0" stroke-width="0.75" stroke-linejoin="round"/><polyline points="518.2,446.6 520.6,446.1 522.8,445.0 524.9,443.8 526.4,441.5 528.9,441.1 531.0,439.9 533.2,439.4 535.5,439.2 537.6,438.2 539.9,437.9 542.2,438.0 544.4,437.7 546.8,438.4 548.9,439.9 551.5,440.4 553.4,442.2 554.1,444.4 553.1,446.7 553.5,448.9 553.4,451.1 553.0,453.4 553.6,455.6 554.1,457.9 553.4,460.1 555.5,461.3 557.9,461.7 560.1,462.6 562.3,463.3 564.4,464.6 566.9,464.6 569.0,463.3 571.5,462.7 573.5,461.0 575.8,460.1 578.0,460.7 580.2,461.2 582.6,461.1 584.9,461.2 587.0,462.3 589.2,460.9 591.7,459.9 593.8,458.4 595.9,456.9 598.2,455.6 600.4,455.8 602.7,455.1 604.9,455.1 607.2,455.3 609.4,455.6 610.7,457.6 613.1,458.6 614.9,460.2 616.2,462.3 617.7,464.3 618.6,466.5 619.2,468.9 619.6,471.3 620.6,473.5 623.0,473.6 625.1,472.4 627.3,472.0 629.6,471.4 631.9,471.3 634.0,470.4 636.5,470.4 638.6,469.4 640.7,468.4 642.9,467.5 645.4,467.9 647.5,466.8 649.7,467.7 651.9,468.4 654.3,468.0 656.5,469.0 658.2,470.9 659.6,473.1 661.8,474.5 663.2,476.7 665.5,478.0 666.8,480.1 666.3,482.7 668.4,484.5 668.6,487.0 670.0,489.0 670.0,491.5 671.8,494.1 674.4,496.0" fill="none" stroke="#b0b0b0" stroke-width="0.75" stroke-linejoin="round"/><polyline points="566.9,464.6 566.3,466.8 565.8,469.0 566.5,471.4 565.0,473.4 565.9,475.8 564.9,478.0 565.5,480.3 564.6,482.5 563.5,484.6 563.6,487.2 562.0,489.1 561.3,491.4 560.4,493.6 560.1,496.0 559.9,498.3 559.0,500.6 558.6,502.9 559.7,505.4 558.9,507.7 557.9,509.9 558.0,512.3 558.2,514.7 557.9,517.0" fill="none" stroke="#b0b0b0" stroke-width="0.75" stroke-linejoin="round"/><polyline points="605.0,357.0 604.8,359.3 603.6,361.4 603.3,363.6 603.9,366.0 602.5,368.1 602.7,370.4 604.3,372.4 606.8,373.5 607.6,376.3 610.2,377.3 611.7,379.4 612.4,381.6 612.7,383.9 612.9,386.1 614.0,388.2 613.9,390.6 612.2,392.3 610.5,394.0 609.4,396.2 607.6,397.8 606.3,399.8 605.0,401.8 604.0,403.9 604.6,406.4 603.8,408.6 603.2,410.8 602.7,413.0 604.2,415.0 603.8,417.8 605.2,419.8 606.9,421.7 607.2,424.2 607.7,426.5 608.6,428.6 609.6,430.8 610.3,433.0 610.5,435.4 611.7,437.5 611.7,439.9 611.3,442.1 611.0,444.4 611.3,446.7 609.8,448.8 610.8,451.2 610.2,453.4 609.4,455.6" fill="none" stroke="#b0b0b0" stroke-width="0.75" stroke-linejoin="round"/><polyline points="647.5,466.8 648.3,464.6 648.0,462.2 648.4,460.0 649.5,457.9 649.8,455.6 650.3,453.0 652.4,451.3 653.5,449.1 653.6,446.3 655.6,444.6 656.5,442.2 657.3,440.0 658.4,437.8 659.7,435.7 660.6,433.5 660.6,430.9 662.0,428.9 662.8,426.6 663.2,424.2 665.1,422.6 665.0,419.8 667.5,418.6 667.8,416.0 668.9,413.9 670.8,412.3 672.4,410.6 673.8,408.7 674.4,406.3 676.2,404.8 678.5,404.2 679.8,401.8 682.5,401.8 683.9,399.6 686.0,398.6 687.9,397.3 689.9,396.0 692.1,395.1 694.4,394.4 696.9,394.5 699.1,393.7 701.3,392.9 702.2,395.4 703.5,397.6 705.4,399.5 706.2,402.1 708.0,404.0 710.4,404.3 712.3,406.1 714.9,405.9 716.8,407.7 719.3,407.6 721.5,408.5 723.3,410.1 724.8,411.9 727.0,413.1 728.2,415.3" fill="none" stroke="#b0b0b0" stroke-width="0.75" stroke-linejoin="round"/><polyline points="701.3,392.9 700.9,390.6 700.3,388.3 700.1,386.0 698.3,384.1 697.4,381.9 697.9,379.3 696.8,377.2 695.8,375.0 695.1,372.8 695.1,370.3 693.4,368.4 693.8,365.7 692.4,363.7 690.9,361.5 688.8,359.6 687.9,357.0 689.3,359.3 691.5,360.7 693.9,362.0 695.3,364.3 694.3,366.6 693.9,369.1 693.4,371.6 693.3,374.1" fill="none" stroke="#b0b0b0" stroke-width="0.75" stroke-linejoin="round"/><polyline points="695.3,364.3 697.4,362.6 699.8,361.4 702.4,360.9 704.5,359.1 707.1,358.4 706.9,356.0 707.8,353.7 708.1,351.4 708.2,349.0 709.0,346.7 710.9,345.0 713.3,344.0 714.5,341.5 716.5,340.0 718.8,338.8 718.9,336.3 720.1,334.2 720.7,331.8 722.9,330.1 722.7,327.5 724.6,325.6 724.7,323.1 723.1,324.9 720.4,325.2 718.8,327.1 716.5,327.1 714.2,326.8 712.0,326.8 709.7,327.5 707.4,327.5 705.1,327.1" fill="none" stroke="#b0b0b0" stroke-width="0.75" stroke-linejoin="round"/><polyline points="531.0,275.2 533.2,275.8 535.5,276.1 537.6,277.4 540.0,277.1 542.2,278.0 544.5,278.3 546.7,278.9 548.9,279.6 550.3,281.7 553.0,282.1 554.6,284.0 556.6,285.3 558.4,286.9 560.1,288.6 562.1,290.0 564.7,289.6 566.8,290.7 569.1,291.0 571.2,292.2 573.6,292.4 575.8,293.1 578.1,292.9 580.3,293.5 582.6,293.8 584.7,294.7 587.0,294.6 589.4,294.3 591.5,295.3 593.8,295.3 596.1,295.4 598.3,296.2 600.6,296.2 602.8,297.0 605.0,297.6 604.5,299.8 605.0,302.1 604.6,304.3 604.6,306.6 605.0,308.8 606.8,310.4 608.6,311.9 610.7,313.1 612.3,314.9 614.1,316.6 616.2,317.7 618.3,316.6 620.8,317.5 622.9,316.2 625.0,315.4 627.4,315.5 629.9,316.3 632.0,317.9 634.5,318.8 636.4,320.6 638.6,322.0 640.8,320.0 642.0,318.1 643.7,316.5 644.8,314.6 646.7,313.2 647.5,311.0 647.8,308.8 647.2,306.5 648.1,304.3 647.8,302.1 648.2,299.8 647.9,297.6 648.2,295.3 647.5,293.1 645.1,292.4 642.9,291.2 641.2,289.1 638.6,288.6 636.3,287.9 635.4,285.4 633.6,284.1 631.1,283.7 629.6,281.9 630.4,279.7 632.7,278.4 634.1,276.5 635.2,274.5 636.3,272.5 637.7,270.6 638.6,268.4 638.7,266.1 638.7,263.8 640.1,261.7 641.0,259.6 640.8,257.2 642.6,255.3 643.1,252.7 643.4,250.1 644.8,248.0 646.3,246.0 647.5,243.8" fill="none" stroke="#b0b0b0" stroke-width="0.75" stroke-linejoin="round"/><polyline points="636.3,329.0 637.9,330.7 639.9,332.1 641.9,333.5 643.0,335.7 643.5,338.2 644.9,340.3 645.6,342.7 646.2,345.2 646.5,347.7 647.5,350.0 649.2,351.8 651.7,352.3 653.4,354.2 655.4,355.4 658.1,355.5 660.0,357.0 662.3,356.3 664.6,356.5 667.0,357.5 669.3,357.2 671.6,357.7 674.0,357.8 676.3,357.2 678.6,357.1 680.9,356.3 683.2,356.2 685.6,357.5 687.9,357.0" fill="none" stroke="#b0b0b0" stroke-width="0.75" stroke-linejoin="round"/><polyline points="647.5,243.8 649.8,243.0 652.0,243.2 654.2,243.6 656.5,243.8 658.2,241.7 659.0,239.0 661.0,237.1 663.2,236.5 665.5,236.7 667.8,237.5 670.0,237.1 672.5,237.7 674.3,239.7 676.6,240.7 679.2,241.0 681.1,242.7 683.4,243.8 685.6,243.1 687.9,242.5 690.3,242.8 692.4,241.5 694.8,241.4 697.0,241.9 698.9,243.9 701.3,243.8 703.0,241.9 704.6,239.9 706.5,238.2 708.3,236.4 710.3,234.8 712.9,233.9 714.5,231.4 717.0,230.3" fill="none" stroke="#b0b0b0" stroke-width="0.75" stroke-linejoin="round"/><polyline points="661.0,252.8 663.5,253.3 665.7,254.6 667.9,255.8 670.0,257.2 672.1,258.4 674.5,258.3 676.6,259.2 679.1,258.8 681.2,260.0 683.3,261.1 685.7,261.2 687.9,261.7 688.0,264.2 688.8,266.4 690.3,268.4 691.7,270.4 691.3,273.1 692.4,275.2 693.8,277.2 694.9,279.4 694.7,282.1 695.4,284.4 696.8,286.4 698.8,287.8 701.0,288.8 703.7,288.6 706.0,289.3 708.0,290.8 708.2,293.2 706.4,295.2 707.3,297.7 706.8,299.9 705.8,302.1 705.4,304.7 704.2,306.9 703.1,309.1 701.3,311.0 702.3,313.2 703.3,315.3 703.8,317.7 703.6,320.2 705.6,322.1 705.8,324.5 705.1,327.1" fill="none" stroke="#b0b0b0" stroke-width="0.75" stroke-linejoin="round"/><polyline points="531.0,241.5 533.2,240.9 535.3,240.3 537.5,239.9 539.4,238.3 541.7,238.2 543.9,237.9 546.1,237.2 547.8,235.4 550.2,235.4 552.3,234.6 554.3,233.7 556.7,233.7 558.6,232.4 560.7,231.5 563.0,231.6 565.0,230.4 567.0,229.2 569.1,228.5 571.3,228.1 573.5,227.5 575.6,226.1 578.1,226.3 580.4,225.9 582.5,224.8 584.9,224.8 587.0,223.6 589.5,223.5 591.5,222.2 593.8,221.6 595.8,220.0 598.0,219.2 600.5,219.1 601.9,217.1 601.5,214.5 602.0,212.2 603.7,210.3 604.1,208.0 603.8,205.5 605.0,203.4 604.7,201.2 604.6,198.9 604.6,196.7 605.0,194.5 602.2,192.8 600.5,190.0 601.4,187.8 601.9,185.5 602.9,183.4 603.4,181.1 604.1,178.8 604.8,176.6 606.9,174.9 607.2,172.5 607.1,170.2 606.4,168.0 605.3,165.9 604.8,163.6 604.4,161.4 604.2,159.1 603.4,156.9 603.2,154.6 602.7,152.3 602.7,150.0 602.8,147.6 604.1,145.6 604.3,143.3 604.9,141.0 605.3,138.8 606.1,136.6 607.1,134.4 607.2,132.1 607.9,129.7 608.5,127.3 610.0,125.4 610.9,123.1 612.4,121.1 612.4,118.4 613.9,116.4 614.8,114.3 613.8,111.8 615.0,109.7 615.1,107.5 615.3,105.2 616.5,103.1 616.2,100.8 615.7,98.4 614.0,96.5 613.6,94.1 613.0,91.7 611.3,89.8 610.5,87.5 610.4,85.0 609.4,82.8" fill="none" stroke="#b0b0b0" stroke-width="0.75" stroke-linejoin="round"/><polyline points="605.0,203.4 607.2,203.4 609.5,203.5 611.7,203.9 613.9,204.0 616.1,204.0 618.4,203.2 620.6,203.4 622.7,204.5 625.1,204.0 627.4,204.2 629.7,204.3 631.8,205.3 634.1,205.7 635.1,203.2 636.8,201.0 638.6,199.0 640.0,197.2 641.5,195.5 642.8,193.5 643.2,191.1 644.4,189.1 645.9,187.4 647.6,185.8 649.3,184.2 650.5,182.2 652.0,180.5 652.8,178.3 654.1,176.4 654.9,174.2 656.5,172.5 658.4,171.2 660.3,170.1 662.5,169.6 664.5,168.7 666.5,167.6 668.4,166.3 670.4,165.4 672.2,164.1 674.4,163.5 676.4,162.2 677.7,160.2 679.5,158.8 681.2,157.1 682.2,154.9 683.6,153.0 685.4,151.5 687.3,150.1" fill="none" stroke="#b0b0b0" stroke-width="0.75" stroke-linejoin="round"/><polyline points="627.4,232.6 629.1,234.0 630.7,235.6 632.5,236.9 634.2,238.4 636.3,239.3 638.7,239.9 640.5,241.8 643.0,242.1 645.1,243.3 647.5,243.8" fill="none" stroke="#b0b0b0" stroke-width="0.75" stroke-linejoin="round"/><polyline points="540.0,257.2 541.6,259.3 542.0,262.1 543.4,264.3 544.8,266.5 546.7,268.4 545.5,270.5 544.6,272.7 544.4,275.2" fill="none" stroke="#b0b0b0" stroke-width="0.75" stroke-linejoin="round"/><polyline points="643.0,105.2 644.0,103.1 643.9,100.5 645.4,98.6 646.5,96.4 647.3,94.2 647.5,91.8 649.5,90.4 651.5,89.2 653.3,87.4 655.4,86.2 656.9,84.3 659.4,83.6 661.3,82.1 663.2,80.6 665.3,81.8 667.1,83.4 668.6,85.3 670.7,86.5 672.1,88.6 674.4,89.5 674.9,92.1 676.2,94.2 678.4,96.0 678.9,98.5 678.8,101.0 677.7,103.1 676.9,105.3 675.6,107.4 674.7,109.6 674.4,112.0 672.7,113.6 670.9,115.2 669.3,116.9 667.7,118.7 665.6,120.0 663.2,119.8 661.1,120.8 658.7,120.9 656.4,119.7 653.8,118.9 652.1,116.7 650.1,115.0 647.5,114.2 645.8,112.3 645.4,109.6 643.4,107.8 643.0,105.2" fill="none" stroke="#b0b0b0" stroke-width="0.75" stroke-linejoin="round"/><polyline points="667.7,123.2 667.1,125.4 667.1,127.7 666.2,129.8 666.9,132.2 665.6,134.3 665.5,136.6 667.4,137.8 669.0,139.4 671.2,140.2 672.8,141.8 674.4,143.3 676.5,141.9 678.8,140.9 681.3,140.3 683.4,138.9 684.3,136.6 685.9,134.7 686.2,132.2 686.6,129.7 687.9,127.6 687.2,125.3 686.1,123.1 684.7,121.1 684.3,118.6 683.4,116.4" fill="none" stroke="#b0b0b0" stroke-width="0.75" stroke-linejoin="round"/><polyline points="343.4,256.9 341.7,254.4 340.7,251.5 339.6,248.7 338.2,246.0 336.7,243.4 336.5,240.4 335.9,237.4 335.8,234.4 335.2,231.5 334.4,228.5 334.4,225.5 335.5,222.5 336.2,219.4 338.2,216.7 339.4,213.7 339.9,210.5 341.2,207.6 344.5,206.3 347.9,205.3 351.2,206.1 354.7,206.2 358.0,206.7 361.3,207.6 364.4,208.0 367.3,208.9 370.3,209.8 373.4,210.4 376.5,211.1 379.8,210.8 382.8,212.0 386.0,212.0 389.4,211.0 392.7,209.8 396.2,209.1 399.6,207.9 402.7,206.1 406.2,205.3 409.1,204.3 411.7,202.8 414.4,201.5 417.4,200.9 419.6,198.6 422.1,196.6 424.1,194.1 422.5,190.7 420.5,187.5 419.4,183.9 417.4,180.7 418.9,177.5 419.6,174.0 422.9,172.6 426.3,171.7 429.7,170.8 433.0,169.5 436.1,168.8 438.9,166.9 442.0,166.2 445.2,165.5 448.0,164.0 451.0,162.8 453.4,160.1 455.7,157.3 457.8,154.3 460.0,151.5 460.9,148.6 462.3,145.9 463.4,143.1 464.3,140.2 465.9,137.6 466.5,134.6 467.8,131.9 468.9,129.1 468.3,125.9 467.4,122.7 466.6,119.6 465.4,116.5 464.4,113.4 464.9,109.5 465.8,105.6 467.7,103.0 469.3,100.2 470.7,97.4 472.3,94.6 473.6,91.7 476.6,89.8 479.6,87.8 482.7,86.0 485.7,84.0 490.1,83.9 494.4,84.5 497.3,86.5 500.3,88.4 503.6,89.6 506.5,91.7 509.5,92.6 512.5,93.2 515.7,93.3 518.6,94.3 522.1,92.6 525.1,92.2 528.2,92.7 531.2,92.3 534.2,92.6 537.7,93.7 541.0,95.2 544.4,96.3 547.0,98.7 549.6,101.0 552.5,103.1 555.3,105.1 557.9,107.5 557.5,110.8 556.5,113.9 555.5,117.0 554.3,120.1 553.4,123.2 551.0,126.0 549.2,129.3 546.7,132.1 546.1,135.1 544.8,138.0 544.5,141.1 543.5,144.0 542.8,147.0 542.2,150.0 541.7,153.2 541.6,156.4 541.2,159.6 540.7,162.8 541.0,166.1 540.0,169.3 540.0,172.5 539.6,176.0 540.5,179.5 540.3,183.0 540.3,186.5 540.0,190.0 540.7,193.2 541.0,196.4 540.8,199.6 541.6,202.8 542.0,206.0 541.4,209.2 542.2,212.4 541.7,215.6 540.9,218.8 540.3,222.0 539.8,225.2 539.0,228.4 538.6,231.7 537.7,234.8 536.9,237.8 536.5,240.9 535.5,243.8 538.4,242.7 541.4,242.0 544.4,241.5 547.5,241.2 550.4,240.1 553.4,239.3 556.6,238.6 559.3,237.0 562.3,235.7 565.4,235.0 568.2,233.4 571.3,232.6 574.2,233.7 577.3,233.6 580.3,234.1 583.3,234.6 586.3,235.2 589.3,236.0 592.9,236.7 596.4,236.9 600.0,236.7 603.6,236.6 607.2,237.1 610.1,236.2 613.1,235.9 616.1,235.7 619.2,235.7 622.1,235.3 625.1,234.8 627.6,232.8 629.6,230.3 631.6,227.7 632.8,224.6 634.8,222.0 636.3,219.1 638.5,216.8 640.9,214.8 642.8,212.2 645.6,210.5 647.5,207.9 649.9,205.7 653.0,204.4 655.5,202.4 658.5,201.0 661.0,199.0 663.8,196.4 667.2,194.8 670.0,192.2 672.2,189.9 675.1,188.5 677.6,186.5 680.0,184.4 682.2,182.2 684.9,180.4 687.4,178.5 689.7,176.4 692.4,174.7 694.8,172.8 697.7,171.8 700.1,169.9 702.5,168.1 705.3,166.8 707.8,165.2 710.3,163.5" fill="none" stroke="#b4cdf6" stroke-width="1.3" stroke-linejoin="round"/><polyline points="321.0,379.4 322.7,382.1 324.9,384.6 326.0,387.8 327.8,390.4 330.0,392.9 332.3,395.8 334.3,398.9 336.7,401.8 337.5,405.1 338.1,408.5 338.6,411.9 338.9,415.3 338.7,418.5 339.2,421.7 338.4,424.9 339.3,428.1 339.2,431.3 339.3,434.5 338.9,437.7 342.0,438.0 345.2,437.6 348.3,437.7 351.5,437.5 354.6,437.7 358.4,437.1 362.0,436.1 365.8,435.4 366.8,438.3 367.4,441.4 368.1,444.4 371.0,442.7 373.9,441.1 377.0,439.9 380.0,438.5 382.7,436.7 385.5,435.0 388.2,433.2 388.6,430.1 388.1,426.9 388.1,423.8 388.1,420.6 388.2,417.5 389.2,414.7 390.6,412.0 391.1,408.9 392.7,406.3 394.3,403.5 396.1,400.7 397.6,397.8 399.4,395.1 401.3,391.8 404.1,389.2 406.2,386.1 409.4,384.5 412.9,384.0 416.1,382.5 419.6,381.7 422.7,380.7 425.9,380.2 429.1,379.6 432.3,379.1 435.6,379.0 438.8,378.5 442.0,377.7 444.6,375.8 447.5,374.3 450.1,372.3 452.8,370.6 455.5,368.8 458.7,367.6 461.4,365.6 464.6,364.6 467.5,363.0 470.5,361.5 473.4,359.8 475.7,357.5 478.3,355.6 480.8,353.7 483.5,352.0 486.5,350.6 489.0,348.6 491.3,346.4 493.4,343.9 494.6,340.8 496.9,338.4 498.7,335.8 500.3,332.9 503.7,332.4 507.1,331.5 510.3,330.1 513.7,329.6 517.1,329.0 520.6,329.4 524.1,329.1 527.6,329.0 531.0,328.4 534.2,328.3 537.4,328.6 540.6,327.8 543.8,328.5 547.0,328.4 550.2,327.7 553.4,327.8 556.7,328.2 559.8,329.4 563.0,330.4 566.2,330.9 569.5,331.4 572.7,332.4 575.8,333.4 578.7,334.5 582.0,334.7 584.8,336.3 588.0,336.5 591.0,337.2 594.1,338.0 596.8,339.6 600.0,340.0 603.3,340.1 606.5,339.2 609.7,338.6 613.0,338.9 616.2,338.4 618.8,340.1 621.9,340.6 624.4,342.5 627.1,344.0 630.0,345.0 632.5,347.1 635.0,349.4 637.3,351.7 640.2,353.5 642.6,355.7 645.0,358.0 648.0,357.5 651.0,356.7 654.0,355.9 657.0,355.0 660.0,354.5 662.7,352.4 664.6,349.6 667.2,347.5 669.7,345.3 671.8,342.7 674.0,340.0 676.0,337.2 678.4,334.7 680.6,332.0 683.0,329.5 685.5,327.1 687.5,324.5 690.0,322.4 692.3,320.1 694.6,317.9 697.0,315.7 699.2,313.3 701.9,310.8 704.5,308.2 707.0,305.5 709.9,304.4 713.0,303.7 715.9,302.6 718.8,301.6 722.0,302.0 725.1,303.2 728.3,303.8 731.3,304.9 734.5,305.5 737.9,306.7 741.4,307.2 744.8,308.4 748.2,309.4 751.5,310.7 754.8,311.8 758.0,313.3 761.4,313.5 764.6,314.2 767.8,315.3" fill="none" stroke="#b4cdf6" stroke-width="1.3" stroke-linejoin="round"/><polyline points="321.0,263.4 324.3,262.5 327.7,262.4 331.0,261.4 334.4,261.2 337.8,260.9 341.2,260.2 344.5,259.4 347.9,259.0 351.2,260.2 354.6,261.3 358.1,261.9 361.3,263.4 364.1,264.6 366.9,265.8 369.7,266.9 372.5,268.0 375.7,270.5 379.3,272.4" fill="none" stroke="#b4cdf6" stroke-width="1.3" stroke-linejoin="round"/><polyline points="321.0,464.6 324.1,466.7 327.7,467.9 331.0,469.8 334.4,471.3 335.9,474.2 338.0,476.8 339.9,479.5 341.2,482.5 340.7,485.5 340.8,488.5 340.2,491.5 339.3,494.4 338.9,497.4 338.9,500.4 338.8,503.8 338.4,507.1 337.9,510.4 336.8,513.6 336.7,517.0" fill="none" stroke="#b4cdf6" stroke-width="1.3" stroke-linejoin="round"/><polyline points="321.0,408.5 322.1,411.3 323.7,413.9 325.3,416.5 327.2,418.8 328.6,421.5 330.0,424.2 330.4,427.4 330.9,430.6 332.3,433.6 332.7,436.8 333.0,440.0" fill="none" stroke="#b4cdf6" stroke-width="1.3" stroke-linejoin="round"/><polyline points="557.9,505.0 560.8,506.1 563.9,506.3 566.8,507.5 569.7,508.4 572.9,508.5 575.8,509.4 579.3,509.8 582.9,509.5 586.5,509.5 590.0,510.0" fill="none" stroke="#b4cdf6" stroke-width="1.3" stroke-linejoin="round"/><polyline points="640.0,282.0 643.4,281.9 646.7,281.7 650.0,280.5 653.4,281.1 656.7,280.7 660.0,280.0 663.3,279.2 666.7,279.6 670.0,279.3 673.3,278.4 676.7,278.8 680.0,278.0 683.3,277.5 686.7,277.3 690.0,277.2 693.4,276.9 696.7,276.6 700.0,276.0" fill="none" stroke="#b4cdf6" stroke-width="1.3" stroke-linejoin="round"/><polyline points="355.7,37.0 367.0,41.5 369.5,44.0 380.0,50.0 400.8,58.8 407.7,59.7 418.0,58.8 420.7,58.8 421.2,63.1 426.8,63.1 431.0,64.9 435.4,62.3 445.8,54.5 459.7,49.3 478.8,41.5 494.4,42.3 508.2,42.9 520.4,41.5 529.0,37.0" fill="none" stroke="#d9434a" stroke-width="1.3" stroke-linejoin="round"/><polyline points="819.0,106.1 821.8,100.4 828.9,94.7 836.0,90.5 843.1,86.2 846.0,83.4 853.0,80.6 857.0,75.8 862.6,68.8 864.0,61.8 869.6,59.0 874.5,66.0 894.8,70.2 897.6,64.6 892.0,53.4 910.2,53.4 917.2,43.6 925.6,42.2 927.0,37.0" fill="none" stroke="#d9434a" stroke-width="1.3" stroke-linejoin="round"/><polyline points="939.6,37.0 941.0,40.0 946.6,43.0" fill="none" stroke="#d9434a" stroke-width="1.3" stroke-linejoin="round"/><polyline points="379.3,518.0 395.0,513.9 410.6,513.9 426.3,509.4 428.6,504.9 437.5,502.7 446.5,509.4 455.5,511.6 464.4,513.9 466.7,518.0" fill="none" stroke="#d9434a" stroke-width="1.3" stroke-linejoin="round"/><polyline points="787.2,473.5 781.6,499.3" fill="none" stroke="#d9434a" stroke-width="1.3" stroke-linejoin="round"/><circle cx="565.5" cy="85.5" r="2.4" fill="#f6c4c4" stroke="#e47c7c" stroke-width="1.1"/><circle cx="565.5" cy="85.5" r="0.8" fill="#e88"/><text x="570.0" y="88.7" class="ct">呼和浩特</text><circle cx="454.6" cy="146.4" r="2.4" fill="#f6c4c4" stroke="#e47c7c" stroke-width="1.1"/><circle cx="454.6" cy="146.4" r="0.8" fill="#e88"/><text x="459.1" y="149.6" class="ct">银川</text><circle cx="365.4" cy="194.1" r="2.4" fill="#f6c4c4" stroke="#e47c7c" stroke-width="1.1"/><circle cx="365.4" cy="194.1" r="0.8" fill="#e88"/><text x="369.9" y="197.3" class="ct">西宁</text><circle cx="407.3" cy="207.1" r="2.4" fill="#f6c4c4" stroke="#e47c7c" stroke-width="1.1"/><circle cx="407.3" cy="207.1" r="0.8" fill="#e88"/><text x="411.8" y="210.3" class="ct">兰州</text><circle cx="581.4" cy="161.7" r="2.4" fill="#f6c4c4" stroke="#e47c7c" stroke-width="1.1"/><circle cx="581.4" cy="161.7" r="0.8" fill="#e88"/><text x="581.4" y="175.7" class="ct" text-anchor="middle">太原</text><circle cx="620.6" cy="157.5" r="2.4" fill="#f6c4c4" stroke="#e47c7c" stroke-width="1.1"/><circle cx="620.6" cy="157.5" r="0.8" fill="#e88"/><text x="625.1" y="160.7" class="ct">石家庄</text><circle cx="658.7" cy="109.7" r="2.4" fill="#f6c4c4" stroke="#e47c7c" stroke-width="1.1"/><circle cx="658.7" cy="109.7" r="0.8" fill="#e88"/><text x="663.2" y="112.9" class="ct">北京市</text><circle cx="674.4" cy="131.7" r="2.4" fill="#f6c4c4" stroke="#e47c7c" stroke-width="1.1"/><circle cx="674.4" cy="131.7" r="0.8" fill="#e88"/><text x="678.9" y="134.9" class="ct">天津市</text><circle cx="672.6" cy="192.8" r="2.4" fill="#f6c4c4" stroke="#e47c7c" stroke-width="1.1"/><circle cx="672.6" cy="192.8" r="0.8" fill="#e88"/><text x="677.1" y="196.0" class="ct">济南</text><circle cx="603.2" cy="239.3" r="2.4" fill="#f6c4c4" stroke="#e47c7c" stroke-width="1.1"/><circle cx="603.2" cy="239.3" r="0.8" fill="#e88"/><text x="603.2" y="253.3" class="ct" text-anchor="middle">郑州</text><circle cx="411.3" cy="339.2" r="2.4" fill="#f6c4c4" stroke="#e47c7c" stroke-width="1.1"/><circle cx="411.3" cy="339.2" r="0.8" fill="#e88"/><text x="415.8" y="342.4" class="ct">成都</text><circle cx="461.5" cy="362.5" r="2.4" fill="#f6c4c4" stroke="#e47c7c" stroke-width="1.1"/><circle cx="461.5" cy="362.5" r="0.8" fill="#e88"/><text x="466.0" y="365.7" class="ct">重庆市</text><circle cx="462.2" cy="429.4" r="2.4" fill="#f6c4c4" stroke="#e47c7c" stroke-width="1.1"/><circle cx="462.2" cy="429.4" r="0.8" fill="#e88"/><text x="466.7" y="432.6" class="ct">贵阳</text><circle cx="386.7" cy="468.6" r="2.4" fill="#f6c4c4" stroke="#e47c7c" stroke-width="1.1"/><circle cx="386.7" cy="468.6" r="0.8" fill="#e88"/><text x="391.2" y="471.8" class="ct">昆明</text><circle cx="498" cy="513.9" r="2.4" fill="#f6c4c4" stroke="#e47c7c" stroke-width="1.1"/><circle cx="498" cy="513.9" r="0.8" fill="#e88"/><text x="502.5" y="517.1" class="ct">南宁</text><circle cx="589.3" cy="394" r="2.4" fill="#f6c4c4" stroke="#e47c7c" stroke-width="1.1"/><circle cx="589.3" cy="394" r="0.8" fill="#e88"/><text x="593.8" y="397.2" class="ct">长沙</text><circle cx="647.1" cy="382.8" r="2.4" fill="#f6c4c4" stroke="#e47c7c" stroke-width="1.1"/><circle cx="647.1" cy="382.8" r="0.8" fill="#e88"/><text x="651.6" y="386.0" class="ct">南昌</text><circle cx="716.6" cy="442.2" r="2.4" fill="#f6c4c4" stroke="#e47c7c" stroke-width="1.1"/><circle cx="716.6" cy="442.2" r="0.8" fill="#e88"/><text x="721.1" y="445.4" class="ct">福州</text><circle cx="595.5" cy="507.2" r="2.4" fill="#f6c4c4" stroke="#e47c7c" stroke-width="1.1"/><circle cx="595.5" cy="507.2" r="0.8" fill="#e88"/><text x="600.0" y="510.4" class="ct">广州</text><circle cx="616.2" cy="338.4" r="2.4" fill="#f6c4c4" stroke="#e47c7c" stroke-width="1.1"/><circle cx="616.2" cy="338.4" r="0.8" fill="#e88"/><text x="620.7" y="341.6" class="ct">武汉</text><circle cx="675.7" cy="310.4" r="2.4" fill="#f6c4c4" stroke="#e47c7c" stroke-width="1.1"/><circle cx="675.7" cy="310.4" r="0.8" fill="#e88"/><text x="675.7" y="324.4" class="ct" text-anchor="middle">合肥</text><circle cx="706.5" cy="304.2" r="2.4" fill="#f6c4c4" stroke="#e47c7c" stroke-width="1.1"/><circle cx="706.5" cy="304.2" r="0.8" fill="#e88"/><text x="711.0" y="307.4" class="ct">南京</text><circle cx="760" cy="323.5" r="2.4" fill="#f6c4c4" stroke="#e47c7c" stroke-width="1.1"/><circle cx="760" cy="323.5" r="0.8" fill="#e88"/><text x="764.5" y="326.7" class="ct">上海市</text><circle cx="734.5" cy="347.3" r="2.4" fill="#f6c4c4" stroke="#e47c7c" stroke-width="1.1"/><circle cx="734.5" cy="347.3" r="0.8" fill="#e88"/><text x="734.5" y="361.3" class="ct" text-anchor="middle">杭州</text><circle cx="760.7" cy="464.8" r="2.4" fill="#f6c4c4" stroke="#e47c7c" stroke-width="1.1"/><circle cx="760.7" cy="464.8" r="0.8" fill="#e88"/><text x="760.7" y="478.8" class="ct" text-anchor="middle">台北</text><circle cx="800.5" cy="63" r="2.4" fill="#f6c4c4" stroke="#e47c7c" stroke-width="1.1"/><circle cx="800.5" cy="63" r="0.8" fill="#e88"/><text x="805.0" y="66.2" class="ct">沈阳</text><circle cx="846.5" cy="132.8" r="1.6" fill="#fff" stroke="#888" stroke-width="0.7"/><text x="851.0" y="136.0" class="ct" style="font-weight:normal;fill:#555">平壤</text><circle cx="870.4" cy="169.6" r="1.6" fill="#fff" stroke="#888" stroke-width="0.7"/><text x="874.9" y="172.8" class="ct" style="font-weight:normal;fill:#555">首尔</text><text x="507.5" y="264.5" class="ct" text-anchor="middle">西安</text><text x="555.6" y="107.4" class="sl">黄河</text><text x="732.6" y="141.7" class="sl">渤海</text><text x="794.5" y="246.1" class="sl">黄海</text><text x="817.4" y="369.2" class="sl">东海</text><text x="435.8" y="386.8" class="sl">长江</text><text x="653.0" y="118.8" class="mk">测试村营</text><text x="761.0" y="142.9" class="mk">融创城幼儿园</text><text x="526.5" y="259.3" class="mk">陕西交通职业技术学院</text><text x="568.0" y="311.3" class="mk">竹溪县福泽酒店管理有限责任公司</text><text x="558.6" y="345.6" class="mk">坤麟智慧食堂</text><text x="540.3" y="362.1" class="mk">恩施市盛家坝民族初级中学</text><text x="620.0" y="346.3" class="mk">桐城第二小学</text><text x="714.2" y="452.8" class="mk">航运学校</text><path d="M658.7 108.8C657.1 106.2 653.6 103.60000000000001 653.6 100.2A5.1 5.1 0 1 1 663.8000000000001 100.2C663.8000000000001 103.60000000000001 660.3000000000001 106.2 658.7 108.8Z" fill="#e8101c"/><circle cx="658.7" cy="99.9" r="2.2" fill="#fff"/><path d="M759.6 135.0C758.0 132.4 754.5 129.8 754.5 126.4A5.1 5.1 0 1 1 764.7 126.4C764.7 129.8 761.2 132.4 759.6 135.0Z" fill="#e8101c"/><circle cx="759.6" cy="126.10000000000001" r="2.2" fill="#fff"/><path d="M509.5 249.9C507.9 247.3 504.4 244.70000000000002 504.4 241.3A5.1 5.1 0 1 1 514.6 241.3C514.6 244.70000000000002 511.1 247.3 509.5 249.9Z" fill="#e8101c"/><circle cx="509.5" cy="241.0" r="2.2" fill="#fff"/><path d="M529.8 303.1C528.1999999999999 300.5 524.6999999999999 297.9 524.6999999999999 294.5A5.1 5.1 0 1 1 534.9 294.5C534.9 297.9 531.4 300.5 529.8 303.1Z" fill="#e8101c"/><circle cx="529.8" cy="294.2" r="2.2" fill="#fff"/><path d="M556.7 336.40000000000003C555.1 333.8 551.6 331.2 551.6 327.8A5.1 5.1 0 1 1 561.8000000000001 327.8C561.8000000000001 331.2 558.3000000000001 333.8 556.7 336.40000000000003Z" fill="#e8101c"/><circle cx="556.7" cy="327.5" r="2.2" fill="#fff"/><path d="M514.7 353.20000000000005C513.1 350.6 509.6 348.0 509.6 344.6A5.1 5.1 0 1 1 519.8000000000001 344.6C519.8000000000001 348.0 516.3000000000001 350.6 514.7 353.20000000000005Z" fill="#e8101c"/><circle cx="514.7" cy="344.3" r="2.2" fill="#fff"/><path d="M618.3 338.1C616.6999999999999 335.5 613.1999999999999 332.9 613.1999999999999 329.5A5.1 5.1 0 1 1 623.4 329.5C623.4 332.9 619.9 335.5 618.3 338.1Z" fill="#e8101c"/><circle cx="618.3" cy="329.2" r="2.2" fill="#fff"/><path d="M720.4 442.90000000000003C718.8 440.3 715.3 437.7 715.3 434.3A5.1 5.1 0 1 1 725.5 434.3C725.5 437.7 722.0 440.3 720.4 442.90000000000003Z" fill="#e8101c"/><circle cx="720.4" cy="434.0" r="2.2" fill="#fff"/><rect x="321" y="38" width="628" height="479" rx="5" fill="none" stroke="#fbfcff" stroke-width="2.4"/></g></svg><div class="a" style="left:328px;top:45px;width:93px;height:13px;background:#fff;border:1px solid #e4e4e4;font-size:7.2px;line-height:11px;color:#aaa;padding-left:3px">单位名称</div>
<!-- /MAP -->

<!-- right col -->
<div class="pn" style="left:952px;top:38px;width:313px;height:238px;background:#051135"><div class="tt">食安指数<span class="more">查看更多&gt;&gt;</span></div></div>
<div class="pn" style="left:952px;top:279px;width:313px;height:238px;background:#030d28"><div class="tt">食安台账<span class="more">查看更多&gt;&gt;</span></div></div>

<!-- bottom row -->
<div class="pn" style="left:5px;top:520px;width:293px;height:189px;background:linear-gradient(180deg,#040c22 0,#040c22 122px,#071440 122.7px)"><div class="tt">从业人员</div></div>
<div class="pn" style="left:302px;top:520px;width:367px;height:189px;background:linear-gradient(180deg,#020311 0,#020311 122px,#071440 122.7px)"><div class="tt">AI智能预警（近15天）<span class="more">查看更多&gt;&gt;</span></div></div>
<div class="pn" style="left:673px;top:520px;width:294px;height:189px;background:linear-gradient(180deg,#020311 0,#020311 122px,#071440 122.7px)"><div class="tt">AI预警分类（近15天）<span class="more">查看更多&gt;&gt;</span></div></div>
<div class="pn" style="left:971px;top:520px;width:294px;height:189px;background:linear-gradient(180deg,transparent 0,transparent 122px,#071440 122.7px),linear-gradient(90deg,#020311 0,#020311 170px,#060f2e 170.5px)"><div class="tt">物联预警分类（近15天）<span class="more">查看更多&gt;&gt;</span></div></div>
<!-- STARS -->
<svg class="a" style="left:0;top:0" width="1269" height="714"><defs><radialGradient id="gl"><stop offset="0" stop-color="#1a3a8a" stop-opacity=".35"/><stop offset="1" stop-color="#1a3a8a" stop-opacity="0"/></radialGradient></defs><ellipse cx="138" cy="468" rx="60" ry="40" fill="url(#gl)"/><path d="M100 468H176M138 445V492M118 450L158 486M158 450L118 486" stroke="#3a5aa8" stroke-width=".5" opacity=".3"/><circle cx="137.8" cy="468.3" r="1.6" fill="#c8d8ff" opacity="0.9"/><circle cx="220.1" cy="471.5" r="1.3" fill="#c8d8ff" opacity="0.8"/><circle cx="21" cy="471.2" r="1.1" fill="#c8d8ff" opacity="0.6"/><circle cx="247.2" cy="478.1" r="1" fill="#c8d8ff" opacity="0.6"/><circle cx="294" cy="482.3" r="1" fill="#c8d8ff" opacity="0.6"/><circle cx="180.8" cy="484.8" r="0.9" fill="#c8d8ff" opacity="0.5"/><circle cx="239.8" cy="490.4" r="0.9" fill="#c8d8ff" opacity="0.5"/><circle cx="218.9" cy="496.1" r="0.9" fill="#c8d8ff" opacity="0.5"/><circle cx="298.8" cy="467.8" r="0.8" fill="#c8d8ff" opacity="0.5"/><circle cx="303" cy="467.8" r="0.8" fill="#c8d8ff" opacity="0.5"/><circle cx="199.2" cy="462.1" r="0.8" fill="#c8d8ff" opacity="0.4"/><circle cx="43.1" cy="491.1" r="0.8" fill="#c8d8ff" opacity="0.4"/><circle cx="223.8" cy="476.9" r="0.8" fill="#c8d8ff" opacity="0.5"/><circle cx="263.2" cy="492.9" r="0.7" fill="#c8d8ff" opacity="0.4"/><circle cx="166" cy="501.5" r="0.8" fill="#c8d8ff" opacity="0.4"/><circle cx="216.5" cy="504" r="0.7" fill="#c8d8ff" opacity="0.4"/><circle cx="226.3" cy="510.1" r="0.7" fill="#c8d8ff" opacity="0.4"/><circle cx="278" cy="484.3" r="0.7" fill="#c8d8ff" opacity="0.4"/><circle cx="100.2" cy="553.7" r="1.2" fill="#c8d8ff" opacity="0.17"/><circle cx="245.0" cy="547.8" r="1.0" fill="#c8d8ff" opacity="0.17"/><circle cx="153.7" cy="541.9" r="0.9" fill="#c8d8ff" opacity="0.32"/><circle cx="76.0" cy="595.3" r="0.6" fill="#c8d8ff" opacity="0.48"/><circle cx="42.0" cy="561.2" r="1.2" fill="#c8d8ff" opacity="0.38"/><circle cx="24.0" cy="598.9" r="0.6" fill="#c8d8ff" opacity="0.54"/><circle cx="19.6" cy="627.3" r="0.8" fill="#c8d8ff" opacity="0.32"/><circle cx="163.3" cy="597.4" r="1.0" fill="#c8d8ff" opacity="0.48"/><circle cx="58.6" cy="598.5" r="1.2" fill="#c8d8ff" opacity="0.23"/><circle cx="34.4" cy="612.1" r="1.0" fill="#c8d8ff" opacity="0.17"/><circle cx="65.9" cy="608.8" r="0.9" fill="#c8d8ff" opacity="0.46"/><circle cx="141.5" cy="634.0" r="0.8" fill="#c8d8ff" opacity="0.27"/><circle cx="237.2" cy="610.7" r="0.7" fill="#c8d8ff" opacity="0.18"/><circle cx="93.4" cy="589.5" r="0.8" fill="#c8d8ff" opacity="0.44"/><circle cx="89.8" cy="639.9" r="0.6" fill="#c8d8ff" opacity="0.35"/><circle cx="54.0" cy="573.6" r="0.9" fill="#c8d8ff" opacity="0.32"/><circle cx="285.9" cy="546.1" r="1.0" fill="#c8d8ff" opacity="0.38"/><circle cx="260.8" cy="570.6" r="1.2" fill="#c8d8ff" opacity="0.29"/><circle cx="150.5" cy="620.9" r="0.6" fill="#c8d8ff" opacity="0.49"/><circle cx="280.9" cy="587.3" r="1.2" fill="#c8d8ff" opacity="0.18"/><circle cx="218.8" cy="570.2" r="1.0" fill="#c8d8ff" opacity="0.55"/><circle cx="245.2" cy="567.6" r="0.9" fill="#c8d8ff" opacity="0.50"/><circle cx="107.0" cy="704.1" r="0.8" fill="#c8d8ff" opacity="0.19"/><circle cx="40.1" cy="645.9" r="0.8" fill="#c8d8ff" opacity="0.18"/><circle cx="78.1" cy="667.8" r="0.9" fill="#c8d8ff" opacity="0.17"/><circle cx="136.7" cy="678.3" r="0.7" fill="#c8d8ff" opacity="0.35"/><circle cx="257.4" cy="660.4" r="0.9" fill="#c8d8ff" opacity="0.40"/><circle cx="204.7" cy="667.1" r="0.7" fill="#c8d8ff" opacity="0.19"/><circle cx="57.3" cy="657.3" r="0.7" fill="#c8d8ff" opacity="0.15"/><circle cx="247.8" cy="654.0" r="0.8" fill="#c8d8ff" opacity="0.15"/><circle cx="127.9" cy="666.4" r="1.0" fill="#c8d8ff" opacity="0.23"/><circle cx="42.5" cy="698.7" r="1.0" fill="#c8d8ff" opacity="0.31"/><circle cx="221.3" cy="672.1" r="1.2" fill="#c8d8ff" opacity="0.35"/><circle cx="120.2" cy="668.3" r="0.6" fill="#c8d8ff" opacity="0.27"/><circle cx="1077.5" cy="98.6" r="0.7" fill="#c8d8ff" opacity="0.28"/><circle cx="987.2" cy="188.0" r="0.6" fill="#c8d8ff" opacity="0.15"/><circle cx="1000.0" cy="79.1" r="0.8" fill="#c8d8ff" opacity="0.33"/><circle cx="974.9" cy="102.3" r="0.9" fill="#c8d8ff" opacity="0.19"/><circle cx="1031.5" cy="132.7" r="0.8" fill="#c8d8ff" opacity="0.29"/><circle cx="988.9" cy="163.4" r="0.9" fill="#c8d8ff" opacity="0.29"/><circle cx="1050.0" cy="88.4" r="1.2" fill="#c8d8ff" opacity="0.25"/><circle cx="1035.3" cy="237.7" r="0.7" fill="#c8d8ff" opacity="0.30"/><circle cx="1016.8" cy="264.5" r="0.8" fill="#c8d8ff" opacity="0.19"/><circle cx="1121.9" cy="62.9" r="1.0" fill="#c8d8ff" opacity="0.24"/><circle cx="1152.9" cy="76.8" r="0.8" fill="#c8d8ff" opacity="0.31"/><circle cx="1235.5" cy="134.5" r="0.7" fill="#c8d8ff" opacity="0.31"/><circle cx="1195.3" cy="128.9" r="0.7" fill="#c8d8ff" opacity="0.33"/><circle cx="1198.2" cy="222.3" r="0.7" fill="#c8d8ff" opacity="0.39"/><circle cx="1207.5" cy="218.3" r="0.7" fill="#c8d8ff" opacity="0.21"/><circle cx="1106.3" cy="216.4" r="0.6" fill="#c8d8ff" opacity="0.39"/><circle cx="1099.9" cy="99.2" r="1.0" fill="#c8d8ff" opacity="0.44"/><circle cx="1092.1" cy="261.3" r="0.8" fill="#c8d8ff" opacity="0.44"/><circle cx="1066.4" cy="105.1" r="0.7" fill="#c8d8ff" opacity="0.29"/><circle cx="1058.0" cy="162.2" r="1.0" fill="#c8d8ff" opacity="0.40"/><circle cx="1102.1" cy="199.3" r="1.2" fill="#c8d8ff" opacity="0.18"/><circle cx="1158.4" cy="255.3" r="1.2" fill="#c8d8ff" opacity="0.38"/><circle cx="1101.7" cy="95.9" r="1.2" fill="#c8d8ff" opacity="0.25"/><circle cx="1202.1" cy="268.8" r="0.9" fill="#c8d8ff" opacity="0.29"/><circle cx="1184.2" cy="75.5" r="0.7" fill="#c8d8ff" opacity="0.20"/><circle cx="992.5" cy="90.0" r="0.9" fill="#c8d8ff" opacity="0.39"/><circle cx="998.5" cy="237.2" r="0.9" fill="#c8d8ff" opacity="0.35"/><circle cx="1062.0" cy="176.6" r="0.7" fill="#c8d8ff" opacity="0.16"/><circle cx="1201.6" cy="215.3" r="0.6" fill="#c8d8ff" opacity="0.31"/><circle cx="1243.4" cy="151.6" r="0.7" fill="#c8d8ff" opacity="0.40"/><circle cx="1167.7" cy="564.2" r="0.8" fill="#c8d8ff" opacity="0.33"/><circle cx="1235.2" cy="571.9" r="1.0" fill="#c8d8ff" opacity="0.30"/><circle cx="1158.0" cy="632.6" r="0.8" fill="#c8d8ff" opacity="0.46"/><circle cx="1222.8" cy="622.8" r="1.0" fill="#c8d8ff" opacity="0.30"/><circle cx="1254.0" cy="590.2" r="1.0" fill="#c8d8ff" opacity="0.20"/><circle cx="1204.3" cy="628.8" r="0.7" fill="#c8d8ff" opacity="0.36"/><circle cx="1236.7" cy="553.6" r="0.7" fill="#c8d8ff" opacity="0.32"/><circle cx="1230.5" cy="595.9" r="0.8" fill="#c8d8ff" opacity="0.39"/><circle cx="1206.7" cy="588.2" r="0.6" fill="#c8d8ff" opacity="0.46"/><circle cx="1148.9" cy="557.9" r="0.6" fill="#c8d8ff" opacity="0.42"/><circle cx="790.4" cy="679.5" r="0.6" fill="#c8d8ff" opacity="0.24"/><circle cx="891.3" cy="675.9" r="1.0" fill="#c8d8ff" opacity="0.19"/><circle cx="568.7" cy="676.0" r="0.9" fill="#c8d8ff" opacity="0.25"/><circle cx="540.2" cy="677.0" r="0.8" fill="#c8d8ff" opacity="0.33"/><circle cx="1160.8" cy="656.2" r="0.9" fill="#c8d8ff" opacity="0.18"/><circle cx="419.0" cy="671.7" r="0.6" fill="#c8d8ff" opacity="0.28"/><circle cx="714.1" cy="656.8" r="0.8" fill="#c8d8ff" opacity="0.31"/><circle cx="1164.9" cy="653.0" r="1.2" fill="#c8d8ff" opacity="0.28"/><circle cx="654.3" cy="659.5" r="0.7" fill="#c8d8ff" opacity="0.34"/><circle cx="513.2" cy="704.9" r="0.9" fill="#c8d8ff" opacity="0.33"/><circle cx="458.6" cy="686.4" r="0.7" fill="#c8d8ff" opacity="0.18"/><circle cx="717.1" cy="676.5" r="0.8" fill="#c8d8ff" opacity="0.23"/><circle cx="645.1" cy="649.0" r="0.8" fill="#c8d8ff" opacity="0.15"/><circle cx="835.0" cy="671.6" r="0.6" fill="#c8d8ff" opacity="0.23"/><circle cx="799.8" cy="662.2" r="0.6" fill="#c8d8ff" opacity="0.17"/><circle cx="1185.6" cy="657.9" r="0.6" fill="#c8d8ff" opacity="0.17"/><circle cx="563.6" cy="701.9" r="0.7" fill="#c8d8ff" opacity="0.20"/><circle cx="426.6" cy="670.4" r="1.2" fill="#c8d8ff" opacity="0.31"/><circle cx="550.8" cy="652.7" r="1.0" fill="#c8d8ff" opacity="0.26"/><circle cx="975.8" cy="648.8" r="0.6" fill="#c8d8ff" opacity="0.31"/><circle cx="478.4" cy="701.2" r="0.8" fill="#c8d8ff" opacity="0.34"/><circle cx="912.3" cy="695.1" r="0.6" fill="#c8d8ff" opacity="0.27"/><circle cx="516.0" cy="660.2" r="0.6" fill="#c8d8ff" opacity="0.24"/><circle cx="628.3" cy="678.9" r="0.8" fill="#c8d8ff" opacity="0.27"/><circle cx="343.6" cy="689.1" r="0.6" fill="#c8d8ff" opacity="0.34"/><circle cx="553.9" cy="654.8" r="0.8" fill="#c8d8ff" opacity="0.28"/><circle cx="812.9" cy="656.4" r="0.9" fill="#c8d8ff" opacity="0.25"/><circle cx="473.1" cy="665.6" r="0.6" fill="#c8d8ff" opacity="0.35"/><circle cx="337.5" cy="644.2" r="1.0" fill="#c8d8ff" opacity="0.26"/><circle cx="484.3" cy="673.9" r="0.9" fill="#c8d8ff" opacity="0.17"/><circle cx="1089.8" cy="671.1" r="0.9" fill="#c8d8ff" opacity="0.26"/><circle cx="1157.0" cy="706.1" r="0.8" fill="#c8d8ff" opacity="0.29"/><circle cx="1247.1" cy="665.3" r="1.2" fill="#c8d8ff" opacity="0.30"/><circle cx="436.4" cy="707.3" r="0.6" fill="#c8d8ff" opacity="0.32"/><circle cx="315.7" cy="683.7" r="0.8" fill="#c8d8ff" opacity="0.24"/><circle cx="355.3" cy="686.2" r="0.9" fill="#c8d8ff" opacity="0.32"/><circle cx="947.1" cy="661.3" r="0.7" fill="#c8d8ff" opacity="0.29"/><circle cx="345.5" cy="655.0" r="0.8" fill="#c8d8ff" opacity="0.24"/><circle cx="555.2" cy="705.5" r="1.0" fill="#c8d8ff" opacity="0.21"/><circle cx="335.1" cy="700.4" r="0.7" fill="#c8d8ff" opacity="0.22"/><circle cx="700.3" cy="13.1" r="0.9" fill="#c8d8ff" opacity="0.21"/><circle cx="896.8" cy="9.2" r="0.6" fill="#c8d8ff" opacity="0.17"/><circle cx="945.1" cy="6.2" r="1.0" fill="#c8d8ff" opacity="0.16"/><circle cx="706.7" cy="10.8" r="0.7" fill="#c8d8ff" opacity="0.17"/><circle cx="987.3" cy="26.7" r="0.7" fill="#c8d8ff" opacity="0.28"/><circle cx="914.8" cy="27.5" r="0.9" fill="#c8d8ff" opacity="0.30"/><circle cx="916.2" cy="16.3" r="0.8" fill="#c8d8ff" opacity="0.29"/><circle cx="893.0" cy="3.3" r="1.2" fill="#c8d8ff" opacity="0.33"/><circle cx="888.2" cy="23.3" r="1.0" fill="#c8d8ff" opacity="0.18"/><circle cx="857.1" cy="16.6" r="0.6" fill="#c8d8ff" opacity="0.32"/><circle cx="875.2" cy="27.9" r="1.2" fill="#c8d8ff" opacity="0.34"/><circle cx="892.9" cy="4.5" r="0.6" fill="#c8d8ff" opacity="0.18"/><circle cx="61.5" cy="314.7" r="0.9" fill="#c8d8ff" opacity="0.26"/><circle cx="102.7" cy="387.7" r="1.2" fill="#c8d8ff" opacity="0.20"/><circle cx="46.6" cy="364.0" r="0.6" fill="#c8d8ff" opacity="0.30"/><circle cx="83.5" cy="374.9" r="1.2" fill="#c8d8ff" opacity="0.26"/><circle cx="120.8" cy="366.3" r="0.6" fill="#c8d8ff" opacity="0.32"/><circle cx="42.2" cy="405.9" r="0.7" fill="#c8d8ff" opacity="0.30"/><circle cx="156.3" cy="369.2" r="0.9" fill="#c8d8ff" opacity="0.17"/><circle cx="146.2" cy="340.2" r="0.6" fill="#c8d8ff" opacity="0.27"/></svg>
<!-- /STARS -->
<!-- P1 content -->
<div class="a" style="left:161px;top:56px;width:1px;height:100px;background:#3c62aa"></div>
<div class="a" style="left:6px;top:106px;width:310px;height:1px;background:#3c62aa"></div>
<div class="a st" style="left:5px;top:67px;width:156px"><b>3064</b><i>家</i><p>企业总数</p></div>
<div class="a st" style="left:161px;top:67px;width:156px"><b>239</b><i>家</i><p>基础企业（7.80%）</p></div>
<div class="a st" style="left:5px;top:117px;width:156px"><b>2732</b><i>家</i><p>已接入物联企业（89.16%）</p></div>
<div class="a st" style="left:161px;top:117px;width:156px"><b>2580</b><i>家</i><p>已接入AI企业（84.20%）</p></div>


<!-- P2 content -->
<div class="a" style="left:83px;top:178px;width:1px;height:98px;background:#3c62aa"></div>
<div class="a" style="left:6px;top:227px;width:310px;height:1px;background:#3c62aa"></div>
<div class="a lv" style="left:5px;top:196px;width:78px">动态等级</div>
<div class="a lv" style="left:5px;top:245px;width:78px">年度等级</div>
<svg class="a" style="left:113.7px;top:189.5px" width="17" height="17" viewBox="-8.5 -8.5 17 17"><circle r="7.3" fill="none" stroke="#38c23a" stroke-width="1.5"/><circle cx="-2.6" cy="-1.6" r="0.9" fill="#38c23a" opacity=".7"/><circle cx="2.6" cy="-1.6" r="0.9" fill="#38c23a" opacity=".7"/><path d="M-3.4 1.6 Q0 5.6 3.4 1.6" stroke="#38c23a" stroke-width="1.5" fill="none"/></svg><svg class="a" style="left:191.6px;top:189.7px" width="17" height="17" viewBox="-8.5 -8.5 17 17"><circle r="7.3" fill="none" stroke="#f2a42a" stroke-width="1.5"/><path d="M-3.8 -1.8H-1.4M1.4 -1.8H3.8" stroke="#f2a42a" stroke-width="1" opacity=".8"/><path d="M-3.2 2.2H3.2" stroke="#f2a42a" stroke-width="1.5"/></svg><svg class="a" style="left:269.5px;top:189.7px" width="17" height="17" viewBox="-8.5 -8.5 17 17"><circle r="7.3" fill="none" stroke="#f0582a" stroke-width="1.5"/><circle cx="-2.6" cy="-2" r="0.8" fill="#f0582a" opacity=".5"/><circle cx="2.6" cy="-2" r="0.8" fill="#f0582a" opacity=".5"/><path d="M-3.4 4 Q0 -0.4 3.4 4" stroke="#f0582a" stroke-width="1.4" fill="none"/></svg>
<div class="a cnt" style="left:92.4px;top:206.5px;color:#38c23a">2906<i>家</i></div>
<div class="a cnt" style="left:170.2px;top:206.5px;color:#f2a42a">62<i>家</i></div>
<div class="a cnt" style="left:248px;top:206.5px;color:#f0582a">96<i>家</i></div>
<div class="a lg" style="left:92.4px;top:240.5px;color:#38c23a">A级</div>
<div class="a lg" style="left:170.2px;top:240.5px;color:#f2a42a">B级</div>
<div class="a lg" style="left:248px;top:240.5px;color:#f0582a">C级</div>
<div class="a cnt" style="left:92.4px;top:253px;color:#38c23a">2790<i>家</i></div>
<div class="a cnt" style="left:170.2px;top:253px;color:#f2a42a">188<i>家</i></div>
<div class="a cnt" style="left:248px;top:253px;color:#f0582a">86<i>家</i></div>


<!-- P3 content -->
<svg class="a" style="left:0;top:0" width="1269" height="714"><path d="M238.7 389.5L238.70 317.50A72 72 0 1 1 166.74 392.01Z" fill="#5470c6" stroke="rgba(255,255,255,0.3)" stroke-width="0.5"/><path d="M238.7 389.5L166.74 392.01A72 72 0 0 1 170.35 366.86Z" fill="#91cc75" stroke="rgba(255,255,255,0.3)" stroke-width="0.5"/><path d="M238.7 389.5L170.35 366.86A72 72 0 0 1 181.12 346.28Z" fill="#fac858" stroke="rgba(255,255,255,0.3)" stroke-width="0.5"/><path d="M238.7 389.5L181.12 346.28A72 72 0 0 1 190.90 335.65Z" fill="#ee6666" stroke="rgba(255,255,255,0.3)" stroke-width="0.5"/><path d="M238.7 389.5L190.90 335.65A72 72 0 0 1 201.60 327.80Z" fill="#73c0de" stroke="rgba(255,255,255,0.3)" stroke-width="0.5"/><path d="M238.7 389.5L201.60 327.80A72 72 0 0 1 213.14 322.19Z" fill="#3ba272" stroke="rgba(255,255,255,0.3)" stroke-width="0.5"/><path d="M238.7 389.5L213.14 322.19A72 72 0 0 1 223.89 319.04Z" fill="#fc8452" stroke="rgba(255,255,255,0.3)" stroke-width="0.5"/><path d="M238.7 389.5L223.89 319.04A72 72 0 0 1 233.68 317.67Z" fill="#9a60b4" stroke="rgba(255,255,255,0.3)" stroke-width="0.5"/><path d="M238.7 389.5L233.68 317.67A72 72 0 0 1 238.11 317.50Z" fill="#ea7ccc" stroke="rgba(255,255,255,0.3)" stroke-width="0.5"/><path d="M238.7 389.5L238.11 317.50A72 72 0 0 1 238.70 317.50Z" fill="#5470c6" stroke="rgba(255,255,255,0.3)" stroke-width="0.5"/></svg>
<div class="a" style="left:14.1px;top:320.45px;width:15.2px;height:8.5px;border-radius:2px;background:#5470c6"></div><div class="a lgt" style="left:32.4px;top:319.70px;color:#5470c6">学校含幼托食堂(2281家)</div><div class="a" style="left:14.1px;top:334.65px;width:15.2px;height:8.5px;border-radius:2px;background:#91cc75"></div><div class="a lgt" style="left:32.4px;top:333.90px;color:#91cc75">小微型餐饮(173家)</div><div class="a" style="left:14.1px;top:348.85px;width:15.2px;height:8.5px;border-radius:2px;background:#fac858"></div><div class="a lgt" style="left:32.4px;top:348.10px;color:#fac858">食品销售经营(158家)</div><div class="a" style="left:14.1px;top:363.05px;width:15.2px;height:8.5px;border-radius:2px;background:#ee6666"></div><div class="a lgt" style="left:32.4px;top:362.30px;color:#ee6666">大中型餐饮(98家)</div><div class="a" style="left:14.1px;top:377.25px;width:15.2px;height:8.5px;border-radius:2px;background:#73c0de"></div><div class="a lgt" style="left:32.4px;top:376.50px;color:#73c0de">企事业单位食堂(90家)</div><div class="a" style="left:14.1px;top:391.45px;width:15.2px;height:8.5px;border-radius:2px;background:#3ba272"></div><div class="a lgt" style="left:32.4px;top:390.70px;color:#3ba272">养老机构食堂(87家)</div><div class="a" style="left:14.1px;top:405.65px;width:15.2px;height:8.5px;border-radius:2px;background:#fc8452"></div><div class="a lgt" style="left:32.4px;top:404.90px;color:#fc8452">食品加工厂(76家)</div><div class="a" style="left:14.1px;top:419.85px;width:15.2px;height:8.5px;border-radius:2px;background:#9a60b4"></div><div class="a lgt" style="left:32.4px;top:419.10px;color:#9a60b4">农村集体聚餐(67家)</div><div class="a" style="left:14.1px;top:434.05px;width:15.2px;height:8.5px;border-radius:2px;background:#ea7ccc"></div><div class="a lgt" style="left:32.4px;top:433.30px;color:#ea7ccc">集体配餐(30家)</div><div class="a" style="left:14.1px;top:448.25px;width:15.2px;height:8.5px;border-radius:2px;background:#5470c6"></div><div class="a lgt" style="left:32.4px;top:447.50px;color:#5470c6">特大型餐饮(4家)</div>


<!-- B1 content -->
<div class="a" style="left:6px;top:595.5px;width:291px;height:1px;background:#3c62aa"></div>
<div class="a" style="left:6px;top:652.3px;width:291px;height:1px;background:#3c62aa"></div>
<div class="a ppl" style="left:5px;top:555px;width:98px"><p>从业人员</p><div class="n"><b>17121</b><i>人</i></div></div>
<div class="a ppl" style="left:5px;top:613px;width:98px"><p>健康证</p><div class="n"><b>17121</b><i>人</i></div></div>
<div class="a ppl" style="left:5px;top:669.5px;width:98px"><p>食安培训证书</p><div class="n"><b>3064</b><i>人</i></div></div>
<div class="a trk" style="left:103.3px;top:540.8px;width:194.4px"><div class="fil" style="width:77.10px"><span>今日晨检(6790人,39.66%)</span></div></div><div class="a trk" style="left:103.3px;top:568.9px;width:194.4px"><div class="fil" style="width:0px;background:none"><span>不合格(9人,0.13%)</span></div></div><div class="a trk" style="left:103.3px;top:597.5px;width:194.4px"><div class="fil" style="width:169.65px"><span style="left:auto;right:4px">正常(14942人,87.27%)</span></div></div><div class="a trk" style="left:103.3px;top:625.6px;width:194.4px"><div class="fil" style="width:24.75px"><span>已过期(2179人,12.73%)</span></div></div><div class="a trk" style="left:103.3px;top:654.6px;width:194.4px"><div class="fil" style="width:117.88px"><span style="left:auto;right:4px">正常(1858人,60.64%)</span></div></div><div class="a trk" style="left:103.3px;top:682.7px;width:194.4px"><div class="fil" style="width:76.52px"><span>已过期(1206人,39.36%)</span></div></div>


<!-- B2 content -->
<svg class="a" style="left:0;top:0" width="1269" height="714"><defs><linearGradient id="gb" x1="0" y1="0" x2="0" y2="1"><stop offset="0" stop-color="#26c4e0"/><stop offset="1" stop-color="#3b86ea"/></linearGradient></defs><path d="M342.45 664.4V597.72A5.80 5.80 0 0 1 354.05 597.72V664.4Z" fill="url(#gb)"/><text x="348.25" y="588.42" class="vl">767</text><path d="M365.35 664.4V562.38A5.80 5.80 0 0 1 376.95 562.38V664.4Z" fill="url(#gb)"/><text x="371.15" y="553.08" class="vl">1141</text><path d="M388.25 664.4V618.70A5.80 5.80 0 0 1 399.85 618.70V664.4Z" fill="url(#gb)"/><text x="394.05" y="609.40" class="vl">545</text><path d="M411.15 664.4V557.65A5.80 5.80 0 0 1 422.75 557.65V664.4Z" fill="url(#gb)"/><text x="416.95" y="548.35" class="vl">1191</text><path d="M434.05 664.4V575.70A5.80 5.80 0 0 1 445.65 575.70V664.4Z" fill="url(#gb)"/><text x="439.85" y="566.40" class="vl">1000</text><path d="M456.95 664.4V599.89A5.80 5.80 0 0 1 468.55 599.89V664.4Z" fill="url(#gb)"/><text x="462.75" y="590.59" class="vl">744</text><path d="M479.85 664.4V617.37A5.80 5.80 0 0 1 491.45 617.37V664.4Z" fill="url(#gb)"/><text x="485.65" y="608.07" class="vl">559</text><path d="M502.75 664.4V616.43A5.80 5.80 0 0 1 514.35 616.43V664.4Z" fill="url(#gb)"/><text x="508.55" y="607.13" class="vl">569</text><path d="M525.65 664.4V635.90A5.80 5.80 0 0 1 537.25 635.90V664.4Z" fill="url(#gb)"/><text x="531.45" y="626.60" class="vl">363</text><path d="M548.55 664.4V627.77A5.80 5.80 0 0 1 560.15 627.77V664.4Z" fill="url(#gb)"/><text x="554.35" y="618.47" class="vl">449</text><path d="M571.45 664.4V633.25A5.80 5.80 0 0 1 583.05 633.25V664.4Z" fill="url(#gb)"/><text x="577.25" y="623.95" class="vl">391</text><path d="M594.35 664.4V627.96A5.80 5.80 0 0 1 605.95 627.96V664.4Z" fill="url(#gb)"/><text x="600.15" y="618.66" class="vl">447</text><path d="M617.25 664.4V624.65A5.80 5.80 0 0 1 628.85 624.65V664.4Z" fill="url(#gb)"/><text x="623.05" y="615.35" class="vl">482</text><path d="M640.15 664.4V623.23A5.80 5.80 0 0 1 651.75 623.23V664.4Z" fill="url(#gb)"/><text x="645.95" y="613.93" class="vl">497</text><path d="M336.8 548.4V664.4H658.6" stroke="#5d6887" stroke-width="1" fill="none"/><path d="M336.80 664.4v3.5" stroke="#5d6887" stroke-width="1"/><path d="M382.60 664.4v3.5" stroke="#5d6887" stroke-width="1"/><path d="M428.40 664.4v3.5" stroke="#5d6887" stroke-width="1"/><path d="M474.20 664.4v3.5" stroke="#5d6887" stroke-width="1"/><path d="M520.00 664.4v3.5" stroke="#5d6887" stroke-width="1"/><path d="M565.80 664.4v3.5" stroke="#5d6887" stroke-width="1"/><path d="M611.60 664.4v3.5" stroke="#5d6887" stroke-width="1"/><path d="M657.40 664.4v3.5" stroke="#5d6887" stroke-width="1"/><text x="332.2" y="667.00" class="yl">0</text><path d="M334.3 664.40h2.5" stroke="#5d6887" stroke-width="1"/><text x="332.2" y="648.10" class="yl">200</text><path d="M334.3 645.50h2.5" stroke="#5d6887" stroke-width="1"/><text x="332.2" y="629.20" class="yl">400</text><path d="M334.3 626.60h2.5" stroke="#5d6887" stroke-width="1"/><text x="332.2" y="610.30" class="yl">600</text><path d="M334.3 607.70h2.5" stroke="#5d6887" stroke-width="1"/><text x="332.2" y="591.40" class="yl">800</text><path d="M334.3 588.80h2.5" stroke="#5d6887" stroke-width="1"/><text x="332.2" y="572.50" class="yl">1,000</text><path d="M334.3 569.90h2.5" stroke="#5d6887" stroke-width="1"/><text x="332.2" y="553.60" class="yl">1,200</text><path d="M334.3 551.00h2.5" stroke="#5d6887" stroke-width="1"/><text x="348.25" y="674.4" class="xl">10-17</text><text x="394.05" y="674.4" class="xl">10-19</text><text x="439.85" y="674.4" class="xl">10-21</text><text x="485.65" y="674.4" class="xl">10-23</text><text x="531.45" y="674.4" class="xl">10-25</text><text x="577.25" y="674.4" class="xl">10-27</text><text x="623.05" y="674.4" class="xl">10-29</text></svg>
<!-- R1 content -->
<div class="a sbl" style="left:930px;top:59.4px;width:78.7px">万家湖幼儿园</div><div class="a sbar" style="left:1013.3px;top:60.6px;width:214.6px"></div><div class="a sbv" style="left:1231.5px;top:59.4px">100分</div><div class="a sbl" style="left:930px;top:75.2px;width:78.7px">潞口中心幼儿园</div><div class="a sbar" style="left:1013.3px;top:76.4px;width:214.6px"></div><div class="a sbv" style="left:1231.5px;top:75.2px">100分</div><div class="a sbl" style="left:930px;top:91.2px;width:78.7px">瑶琪小学</div><div class="a sbar" style="left:1013.3px;top:92.4px;width:214.6px"></div><div class="a sbv" style="left:1231.5px;top:91.2px">100分</div><div class="a sbl" style="left:930px;top:107.1px;width:78.7px">振店中学</div><div class="a sbar" style="left:1013.3px;top:108.3px;width:214.6px"></div><div class="a sbv" style="left:1231.5px;top:107.1px">100分</div><div class="a sbl" style="left:930px;top:122.9px;width:78.7px">汉南小学</div><div class="a sbar" style="left:1013.3px;top:124.1px;width:214.6px"></div><div class="a sbv" style="left:1231.5px;top:122.9px">100分</div>
<svg class="a" style="left:0;top:0" width="1269" height="714"><path d="M1046.20 170.30A41.2 41.2 0 0 1 1077.01 238.85L1059.66 223.45A18 18 0 0 0 1046.20 193.50Z" fill="#32cd32"/><path d="M1077.01 238.85A41.2 41.2 0 0 1 1005.69 219.01L1028.50 214.78A18 18 0 0 0 1059.66 223.45Z" fill="#ffa500"/><path d="M1005.69 219.01A41.2 41.2 0 0 1 1046.20 170.30L1046.20 193.50A18 18 0 0 0 1028.50 214.78Z" fill="#ff4500"/></svg>
<div class="a" style="left:1136.3px;top:187.1px;width:15.2px;height:8.4px;border-radius:2px;background:#32cd32"></div><div class="a lgt" style="left:1154.4px;top:186.3px;color:#32cd32">80分以上企业</div><div class="a" style="left:1136.3px;top:207.3px;width:15.2px;height:8.4px;border-radius:2px;background:#ffa500"></div><div class="a lgt" style="left:1154.4px;top:206.5px;color:#ffa500">60-80分企业</div><div class="a" style="left:1136.3px;top:227.5px;width:15.2px;height:8.4px;border-radius:2px;background:#ff4500"></div><div class="a lgt" style="left:1154.4px;top:226.7px;color:#ff4500">60分以下企业</div>
<!-- R2 content -->
<div class="a" style="left:1055px;top:297px;width:1px;height:164px;background:#3c62aa"></div><div class="a" style="left:1160px;top:297px;width:1px;height:164px;background:#3c62aa"></div><div class="a" style="left:953px;top:352.2px;width:311px;height:1px;background:#3c62aa"></div><div class="a" style="left:953px;top:406.4px;width:311px;height:1px;background:#3c62aa"></div><div class="a" style="left:953px;top:461.3px;width:311px;height:1px;background:#3c62aa"></div><div class="a tz" style="left:952px;top:308.0px;width:103.5px"><p>食品采购台账</p><b><em>539</em> / <u>2495</u></b></div><div class="a tz" style="left:1055.5px;top:308.0px;width:104.7px"><p>食材检测台账</p><b><em>552</em> / <u>2482</u></b></div><div class="a tz" style="left:1160.2px;top:308.0px;width:104.8px"><p>晨检台账</p><b><em>737</em> / <u>2297</u></b></div><div class="a tz" style="left:952px;top:363.2px;width:103.5px"><p>中心温度台账</p><b><em>526</em> / <u>2508</u></b></div><div class="a tz" style="left:1055.5px;top:363.2px;width:104.7px"><p>添加剂采购台账</p><b><em>550</em> / <u>2484</u></b></div><div class="a tz" style="left:1160.2px;top:363.2px;width:104.8px"><p>食品留样台账</p><b><em>649</em> / <u>2385</u></b></div><div class="a tz" style="left:952px;top:417.4px;width:103.5px"><p>餐具清洗台账</p><b><em>527</em> / <u>2507</u></b></div><div class="a tz" style="left:1055.5px;top:417.4px;width:104.7px"><p>餐具消毒台账</p><b><em>513</em> / <u>2521</u></b></div><div class="a tz" style="left:1160.2px;top:417.4px;width:104.8px"><p>环境卫生台账</p><b><em>534</em> / <u>2500</u></b></div><div class="a tz" style="left:952px;top:472.3px;width:313px"><p>废弃物处理台账</p><b><em>492</em> / <u>2542</u></b></div>
<!-- B34 content -->
<svg class="a" style="left:0;top:0" width="1269" height="714"><path d="M676.2 541.5V667H950.7" stroke="#4d5670" stroke-width="1" fill="none"/><path d="M673.2 542.50H676.2" stroke="#4d5670" stroke-width="1"/><path d="M673.2 558.05H676.2" stroke="#4d5670" stroke-width="1"/><path d="M673.2 573.60H676.2" stroke="#4d5670" stroke-width="1"/><path d="M673.2 589.15H676.2" stroke="#4d5670" stroke-width="1"/><path d="M673.2 604.70H676.2" stroke="#4d5670" stroke-width="1"/><path d="M673.2 620.25H676.2" stroke="#4d5670" stroke-width="1"/><path d="M673.2 635.80H676.2" stroke="#4d5670" stroke-width="1"/><path d="M673.2 651.35H676.2" stroke="#4d5670" stroke-width="1"/><path d="M673.2 666.90H676.2" stroke="#4d5670" stroke-width="1"/><path d="M676.20 667v3" stroke="#4d5670" stroke-width="1"/><text x="676.20" y="677.3" class="xa">0</text><path d="M731.10 667v3" stroke="#4d5670" stroke-width="1"/><text x="731.10" y="677.3" class="xa">2,000</text><path d="M786.00 667v3" stroke="#4d5670" stroke-width="1"/><text x="786.00" y="677.3" class="xa">4,000</text><path d="M840.90 667v3" stroke="#4d5670" stroke-width="1"/><text x="840.90" y="677.3" class="xa">6,000</text><path d="M895.80 667v3" stroke="#4d5670" stroke-width="1"/><text x="895.80" y="677.3" class="xa">8,000</text><path d="M950.70 667v3" stroke="#4d5670" stroke-width="1"/><text x="950.70" y="677.3" class="xa">10,000</text><path d="M973.4 541.5V667H1249" stroke="#4d5670" stroke-width="1" fill="none"/><path d="M970.4 541.60H973.4" stroke="#4d5670" stroke-width="1"/><path d="M970.4 562.45H973.4" stroke="#4d5670" stroke-width="1"/><path d="M970.4 583.30H973.4" stroke="#4d5670" stroke-width="1"/><path d="M970.4 604.15H973.4" stroke="#4d5670" stroke-width="1"/><path d="M970.4 625.00H973.4" stroke="#4d5670" stroke-width="1"/><path d="M970.4 645.85H973.4" stroke="#4d5670" stroke-width="1"/><path d="M970.4 666.70H973.4" stroke="#4d5670" stroke-width="1"/><path d="M973.40 667v3" stroke="#4d5670" stroke-width="1"/><text x="973.40" y="677.3" class="xa">0</text><path d="M1034.70 667v3" stroke="#4d5670" stroke-width="1"/><text x="1034.70" y="677.3" class="xa">100,000</text><path d="M1096.00 667v3" stroke="#4d5670" stroke-width="1"/><text x="1096.00" y="677.3" class="xa">200,000</text><path d="M1157.30 667v3" stroke="#4d5670" stroke-width="1"/><text x="1157.30" y="677.3" class="xa">300,000</text><path d="M1218.60 667v3" stroke="#4d5670" stroke-width="1"/><text x="1218.60" y="677.3" class="xa">400,000</text><path d="M1248.8 667v3" stroke="#4d5670" stroke-width="1"/><text x="1248.8" y="677.3" class="xa">449,259</text></svg>
<div class="a hb" style="left:676.2px;top:544.85px;width:183.70px"></div><div class="a hbl" style="left:863.10px;top:545.20px">口罩识别 6692</div><div class="a hb" style="left:676.2px;top:560.40px;width:41.39px"></div><div class="a hbl" style="left:720.79px;top:560.75px">帽子识别 1508</div><div class="a hb" style="left:676.2px;top:575.95px;width:12.57px"></div><div class="a hbl" style="left:691.97px;top:576.30px">烟火识别 458</div><div class="a hb" style="left:676.2px;top:591.50px;width:7.05px"></div><div class="a hbl" style="left:686.45px;top:591.85px">生物识别 257</div><div class="a hb" style="left:676.2px;top:607.05px;width:3.73px"></div><div class="a hbl" style="left:683.13px;top:607.40px">夜间人员闯入 136</div><div class="a hb" style="left:676.2px;top:622.60px;width:1.81px"></div><div class="a hbl" style="left:681.21px;top:622.95px">明火离岗 66</div><div class="a hb" style="left:676.2px;top:638.15px;width:0.77px"></div><div class="a hbl" style="left:680.17px;top:638.50px">抽烟识别 28</div><div class="a hbl" style="left:679.40px;top:654.05px">非法闯入 0</div><div class="a hb" style="left:973.4px;top:547.00px;width:183.60px;height:10px"></div><div class="a hbl" style="left:1160.20px;top:547.00px">冰箱温湿度 299506</div><div class="a hb" style="left:973.4px;top:567.85px;width:3.09px;height:10px"></div><div class="a hbl" style="left:979.69px;top:567.85px">门磁告警 5035</div><div class="a hbl" style="left:976.60px;top:588.70px">烟雾检测 0</div><div class="a hbl" style="left:976.60px;top:609.55px">可燃气体检测 0</div><div class="a hbl" style="left:976.60px;top:630.40px">专间状态 0</div><div class="a hbl" style="left:976.60px;top:651.25px">消毒柜 0</div>
<!-- END -->
</body></html>
